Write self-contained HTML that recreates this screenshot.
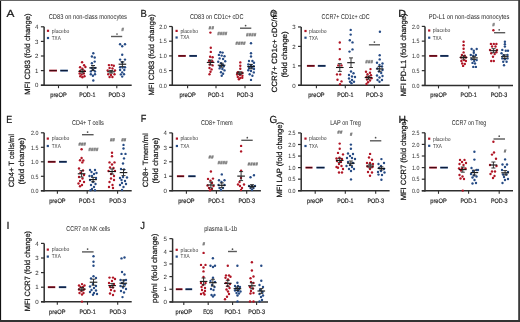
<!DOCTYPE html><html><head><meta charset="utf-8"><style>html,body{margin:0;padding:0;background:#fff;}svg{display:block;filter:blur(0.3px);text-rendering:geometricPrecision;font-family:"Liberation Sans", sans-serif;} text{stroke:currentColor;stroke-width:0.14px;} text.h{stroke:none;} text.L{stroke-width:0.2px;} text.Y{stroke-width:0.2px;}</style></head><body>
<svg width="520" height="322" viewBox="0 0 520 322" fill="#1e1e1e">
<rect width="520" height="322" fill="#fff"/>
<text x="6.6" y="17" font-size="10.3" textLength="7.9" lengthAdjust="spacingAndGlyphs" class="L">A</text>
<text x="48.7" y="18.6" font-size="7" textLength="78.3" lengthAdjust="spacingAndGlyphs" class="h">CD83 on non-class monocytes</text>
<text class="Y" transform="translate(29.6,54.15) rotate(-90)" font-size="7.6" text-anchor="middle" textLength="81.3" lengthAdjust="spacingAndGlyphs">MFI CD83 (fold change)</text>
<line x1="44.1" y1="26.8" x2="44.1" y2="85.8" stroke="#2e2e2e" stroke-width="1.5"/>
<line x1="40.9" y1="85.2" x2="131.7" y2="85.2" stroke="#2e2e2e" stroke-width="1.5"/>
<line x1="40.9" y1="85.2" x2="44.1" y2="85.2" stroke="#2e2e2e" stroke-width="1.2"/>
<text x="38.5" y="87.4" font-size="6.1" text-anchor="end" fill="#2a2a2a" class="h">0</text>
<line x1="40.9" y1="70.6" x2="44.1" y2="70.6" stroke="#2e2e2e" stroke-width="1.2"/>
<text x="38.5" y="72.8" font-size="6.1" text-anchor="end" fill="#2a2a2a" class="h">1</text>
<line x1="40.9" y1="56" x2="44.1" y2="56" stroke="#2e2e2e" stroke-width="1.2"/>
<text x="38.5" y="58.2" font-size="6.1" text-anchor="end" fill="#2a2a2a" class="h">2</text>
<line x1="40.9" y1="41.4" x2="44.1" y2="41.4" stroke="#2e2e2e" stroke-width="1.2"/>
<text x="38.5" y="43.6" font-size="6.1" text-anchor="end" fill="#2a2a2a" class="h">3</text>
<line x1="40.9" y1="26.8" x2="44.1" y2="26.8" stroke="#2e2e2e" stroke-width="1.2"/>
<text x="38.5" y="29" font-size="6.1" text-anchor="end" fill="#2a2a2a" class="h">4</text>
<line x1="58.5" y1="85.2" x2="58.5" y2="88.2" stroke="#2e2e2e" stroke-width="1.1"/>
<text x="58.5" y="96.8" font-size="6.4" text-anchor="middle" textLength="16.4" lengthAdjust="spacingAndGlyphs">preOP</text>
<line x1="87.3" y1="85.2" x2="87.3" y2="88.2" stroke="#2e2e2e" stroke-width="1.1"/>
<text x="87.3" y="96.8" font-size="6.4" text-anchor="middle" textLength="16.2" lengthAdjust="spacingAndGlyphs">POD-1</text>
<line x1="116.8" y1="85.2" x2="116.8" y2="88.2" stroke="#2e2e2e" stroke-width="1.1"/>
<text x="116.8" y="96.8" font-size="6.4" text-anchor="middle" textLength="16.6" lengthAdjust="spacingAndGlyphs">POD-3</text>
<rect x="46.9" y="29.7" width="2.2" height="2.2" fill="#b01525"/>
<rect x="46.9" y="36.9" width="2.2" height="2.2" fill="#264b85"/>
<text x="51.8" y="32.6" font-size="5.8" textLength="17.6" lengthAdjust="spacingAndGlyphs" fill="#3a3a3a" class="h">placebo</text>
<text x="51.8" y="39.8" font-size="5.8" textLength="8.9" lengthAdjust="spacingAndGlyphs" fill="#3a3a3a" class="h">TXA</text>
<line x1="49.2" y1="70.6" x2="57" y2="70.6" stroke="#a3182a" stroke-width="1.9"/>
<line x1="49.5" y1="70.6" x2="56.7" y2="70.6" stroke="#3a0610" stroke-width="1.0"/>
<line x1="60.2" y1="70.6" x2="67.9" y2="70.6" stroke="#24497f" stroke-width="1.9"/>
<line x1="60.5" y1="70.6" x2="67.6" y2="70.6" stroke="#0b1630" stroke-width="1.0"/>
<circle cx="82.1" cy="62.3" r="1.2" fill="#b01525"/>
<circle cx="84.1" cy="65.2" r="1.2" fill="#b01525"/>
<circle cx="85.4" cy="67" r="1.2" fill="#b01525"/>
<circle cx="80.1" cy="67.2" r="1.2" fill="#b01525"/>
<circle cx="82.4" cy="68.8" r="1.2" fill="#b01525"/>
<circle cx="80" cy="71" r="1.2" fill="#b01525"/>
<circle cx="84.4" cy="71" r="1.2" fill="#b01525"/>
<circle cx="79.6" cy="73.5" r="1.2" fill="#b01525"/>
<circle cx="81.7" cy="74.6" r="1.2" fill="#b01525"/>
<circle cx="83.8" cy="73.5" r="1.2" fill="#b01525"/>
<circle cx="80.3" cy="76.2" r="1.2" fill="#b01525"/>
<circle cx="82.4" cy="77.2" r="1.2" fill="#b01525"/>
<circle cx="84.5" cy="76.2" r="1.2" fill="#b01525"/>
<circle cx="93.3" cy="53.3" r="1.2" fill="#264b85"/>
<circle cx="91.9" cy="56.5" r="1.2" fill="#264b85"/>
<circle cx="94.7" cy="57.5" r="1.2" fill="#264b85"/>
<circle cx="94.7" cy="61.6" r="1.2" fill="#264b85"/>
<circle cx="91.9" cy="63.2" r="1.2" fill="#264b85"/>
<circle cx="91.5" cy="67.9" r="1.2" fill="#264b85"/>
<circle cx="94.9" cy="67.9" r="1.2" fill="#264b85"/>
<circle cx="90.8" cy="71.4" r="1.2" fill="#264b85"/>
<circle cx="92.9" cy="70" r="1.2" fill="#264b85"/>
<circle cx="95" cy="71.4" r="1.2" fill="#264b85"/>
<circle cx="90.8" cy="74.2" r="1.2" fill="#264b85"/>
<circle cx="95" cy="74.2" r="1.2" fill="#264b85"/>
<circle cx="92.9" cy="75.8" r="1.2" fill="#264b85"/>
<circle cx="93.3" cy="80.5" r="1.2" fill="#264b85"/>
<circle cx="108.9" cy="65.1" r="1.2" fill="#b01525"/>
<circle cx="111.7" cy="65.1" r="1.2" fill="#b01525"/>
<circle cx="113.8" cy="65.8" r="1.2" fill="#b01525"/>
<circle cx="109.6" cy="68" r="1.2" fill="#b01525"/>
<circle cx="112.5" cy="68.5" r="1.2" fill="#b01525"/>
<circle cx="107.7" cy="70.5" r="1.2" fill="#b01525"/>
<circle cx="115" cy="70.5" r="1.2" fill="#b01525"/>
<circle cx="108.2" cy="74.2" r="1.2" fill="#b01525"/>
<circle cx="111" cy="74.9" r="1.2" fill="#b01525"/>
<circle cx="114.5" cy="74.2" r="1.2" fill="#b01525"/>
<circle cx="109.6" cy="77" r="1.2" fill="#b01525"/>
<circle cx="112.4" cy="77" r="1.2" fill="#b01525"/>
<circle cx="120.1" cy="44.2" r="1.2" fill="#264b85"/>
<circle cx="122.2" cy="46.3" r="1.2" fill="#264b85"/>
<circle cx="125" cy="44.2" r="1.2" fill="#264b85"/>
<circle cx="122.2" cy="54.7" r="1.2" fill="#264b85"/>
<circle cx="120.1" cy="59.6" r="1.2" fill="#264b85"/>
<circle cx="125" cy="59.6" r="1.2" fill="#264b85"/>
<circle cx="122.2" cy="62.3" r="1.2" fill="#264b85"/>
<circle cx="120.1" cy="67.2" r="1.2" fill="#264b85"/>
<circle cx="122.6" cy="67.6" r="1.2" fill="#264b85"/>
<circle cx="125" cy="67.2" r="1.2" fill="#264b85"/>
<circle cx="120.1" cy="70" r="1.2" fill="#264b85"/>
<circle cx="124.3" cy="70" r="1.2" fill="#264b85"/>
<circle cx="122.2" cy="72.4" r="1.2" fill="#264b85"/>
<circle cx="120.8" cy="74.4" r="1.2" fill="#264b85"/>
<circle cx="124" cy="74.2" r="1.2" fill="#264b85"/>
<circle cx="122.2" cy="76.6" r="1.2" fill="#264b85"/>
<line x1="78.4" y1="71.4" x2="86" y2="71.4" stroke="#111" stroke-width="1.1"/>
<line x1="82.2" y1="69.8" x2="82.2" y2="73" stroke="#222" stroke-width="0.9"/>
<line x1="80.2" y1="69.8" x2="84.2" y2="69.8" stroke="#222" stroke-width="0.9"/>
<line x1="80.2" y1="73" x2="84.2" y2="73" stroke="#222" stroke-width="0.9"/>
<line x1="89.2" y1="67.9" x2="96.8" y2="67.9" stroke="#111" stroke-width="1.1"/>
<line x1="93" y1="65.5" x2="93" y2="70.3" stroke="#222" stroke-width="0.9"/>
<line x1="91" y1="65.5" x2="95" y2="65.5" stroke="#222" stroke-width="0.9"/>
<line x1="91" y1="70.3" x2="95" y2="70.3" stroke="#222" stroke-width="0.9"/>
<line x1="107.3" y1="71.8" x2="114.9" y2="71.8" stroke="#111" stroke-width="1.1"/>
<line x1="111.1" y1="70.5" x2="111.1" y2="73.1" stroke="#222" stroke-width="0.9"/>
<line x1="109.1" y1="70.5" x2="113.1" y2="70.5" stroke="#222" stroke-width="0.9"/>
<line x1="109.1" y1="73.1" x2="113.1" y2="73.1" stroke="#222" stroke-width="0.9"/>
<line x1="118.6" y1="64.2" x2="126.2" y2="64.2" stroke="#111" stroke-width="1.1"/>
<line x1="122.4" y1="61.8" x2="122.4" y2="66.6" stroke="#222" stroke-width="0.9"/>
<line x1="120.4" y1="61.8" x2="124.4" y2="61.8" stroke="#222" stroke-width="0.9"/>
<line x1="120.4" y1="66.6" x2="124.4" y2="66.6" stroke="#222" stroke-width="0.9"/>
<line x1="111" y1="36.5" x2="122.2" y2="36.5" stroke="#5a5a5a" stroke-width="1.4"/>
<circle cx="117" cy="34" r="0.85" fill="#505050"/>
<path d="M121.8 31.2L122.6 27.6M122.8 31.2L123.6 27.6M121.6 28.8H123.8M121.4 30H123.6" stroke="#4a4a4a" stroke-width="0.5" fill="none"/>
<text x="140.4" y="16.6" font-size="10.3" textLength="6.3" lengthAdjust="spacingAndGlyphs" class="L">B</text>
<text x="189.9" y="18.8" font-size="7" textLength="53.6" lengthAdjust="spacingAndGlyphs" class="h">CD83 on CD1c+ cDC</text>
<text class="Y" transform="translate(153.7,54.95) rotate(-90)" font-size="7.6" text-anchor="middle" textLength="81.3" lengthAdjust="spacingAndGlyphs">MFI CD83 (fold change)</text>
<line x1="172.3" y1="26.5" x2="172.3" y2="85.9" stroke="#2e2e2e" stroke-width="1.5"/>
<line x1="169.1" y1="85.3" x2="260.9" y2="85.3" stroke="#2e2e2e" stroke-width="1.5"/>
<line x1="169.1" y1="85.3" x2="172.3" y2="85.3" stroke="#2e2e2e" stroke-width="1.2"/>
<text x="166.7" y="87.5" font-size="6.1" text-anchor="end" textLength="7.4" lengthAdjust="spacingAndGlyphs" fill="#2a2a2a" class="h">0.0</text>
<line x1="169.1" y1="70.6" x2="172.3" y2="70.6" stroke="#2e2e2e" stroke-width="1.2"/>
<text x="166.7" y="72.8" font-size="6.1" text-anchor="end" textLength="7.4" lengthAdjust="spacingAndGlyphs" fill="#2a2a2a" class="h">0.5</text>
<line x1="169.1" y1="55.9" x2="172.3" y2="55.9" stroke="#2e2e2e" stroke-width="1.2"/>
<text x="166.7" y="58.1" font-size="6.1" text-anchor="end" textLength="7.4" lengthAdjust="spacingAndGlyphs" fill="#2a2a2a" class="h">1.0</text>
<line x1="169.1" y1="41.2" x2="172.3" y2="41.2" stroke="#2e2e2e" stroke-width="1.2"/>
<text x="166.7" y="43.4" font-size="6.1" text-anchor="end" textLength="7.4" lengthAdjust="spacingAndGlyphs" fill="#2a2a2a" class="h">1.5</text>
<line x1="169.1" y1="26.5" x2="172.3" y2="26.5" stroke="#2e2e2e" stroke-width="1.2"/>
<text x="166.7" y="28.7" font-size="6.1" text-anchor="end" textLength="7.4" lengthAdjust="spacingAndGlyphs" fill="#2a2a2a" class="h">2.0</text>
<line x1="187.6" y1="85.3" x2="187.6" y2="88.3" stroke="#2e2e2e" stroke-width="1.1"/>
<text x="187.6" y="96.8" font-size="6.4" text-anchor="middle" textLength="16.4" lengthAdjust="spacingAndGlyphs">preOP</text>
<line x1="216" y1="85.3" x2="216" y2="88.3" stroke="#2e2e2e" stroke-width="1.1"/>
<text x="216" y="96.8" font-size="6.4" text-anchor="middle" textLength="16.2" lengthAdjust="spacingAndGlyphs">POD-1</text>
<line x1="245" y1="85.3" x2="245" y2="88.3" stroke="#2e2e2e" stroke-width="1.1"/>
<text x="245" y="96.8" font-size="6.4" text-anchor="middle" textLength="16.6" lengthAdjust="spacingAndGlyphs">POD-3</text>
<rect x="175.5" y="29.8" width="2.2" height="2.2" fill="#b01525"/>
<rect x="175.5" y="36.4" width="2.2" height="2.2" fill="#264b85"/>
<text x="180.4" y="32.7" font-size="5.8" textLength="17.6" lengthAdjust="spacingAndGlyphs" fill="#3a3a3a" class="h">placebo</text>
<text x="180.4" y="39.3" font-size="5.8" textLength="8.9" lengthAdjust="spacingAndGlyphs" fill="#3a3a3a" class="h">TXA</text>
<line x1="178.2" y1="55.9" x2="185.8" y2="55.9" stroke="#a3182a" stroke-width="1.9"/>
<line x1="178.5" y1="55.9" x2="185.5" y2="55.9" stroke="#3a0610" stroke-width="1.0"/>
<line x1="189.3" y1="55.9" x2="197" y2="55.9" stroke="#24497f" stroke-width="1.9"/>
<line x1="189.6" y1="55.9" x2="196.7" y2="55.9" stroke="#0b1630" stroke-width="1.0"/>
<circle cx="210.4" cy="32.6" r="1.2" fill="#b01525"/>
<circle cx="210.8" cy="47.7" r="1.2" fill="#b01525"/>
<circle cx="210.8" cy="51.9" r="1.2" fill="#b01525"/>
<circle cx="210.1" cy="56.8" r="1.2" fill="#b01525"/>
<circle cx="212.6" cy="57.2" r="1.2" fill="#b01525"/>
<circle cx="209.1" cy="60.7" r="1.2" fill="#b01525"/>
<circle cx="212.3" cy="61.2" r="1.2" fill="#b01525"/>
<circle cx="209.8" cy="64.5" r="1.2" fill="#b01525"/>
<circle cx="212.6" cy="65.4" r="1.2" fill="#b01525"/>
<circle cx="209.5" cy="68" r="1.2" fill="#b01525"/>
<circle cx="211.6" cy="69.4" r="1.2" fill="#b01525"/>
<circle cx="210.5" cy="71.7" r="1.2" fill="#b01525"/>
<circle cx="209.5" cy="74.3" r="1.2" fill="#b01525"/>
<circle cx="220.3" cy="52.3" r="1.2" fill="#264b85"/>
<circle cx="222.6" cy="52.6" r="1.2" fill="#264b85"/>
<circle cx="218.9" cy="54.9" r="1.2" fill="#264b85"/>
<circle cx="221.7" cy="55.6" r="1.2" fill="#264b85"/>
<circle cx="224.5" cy="56.2" r="1.2" fill="#264b85"/>
<circle cx="219.6" cy="58.4" r="1.2" fill="#264b85"/>
<circle cx="223.1" cy="59" r="1.2" fill="#264b85"/>
<circle cx="225.2" cy="61.2" r="1.2" fill="#264b85"/>
<circle cx="218.2" cy="61.7" r="1.2" fill="#264b85"/>
<circle cx="221" cy="63.1" r="1.2" fill="#264b85"/>
<circle cx="222.8" cy="64.7" r="1.2" fill="#264b85"/>
<circle cx="220.1" cy="66.2" r="1.2" fill="#264b85"/>
<circle cx="223.8" cy="66.2" r="1.2" fill="#264b85"/>
<circle cx="219.6" cy="68.4" r="1.2" fill="#264b85"/>
<circle cx="222.4" cy="69" r="1.2" fill="#264b85"/>
<circle cx="224.5" cy="70.4" r="1.2" fill="#264b85"/>
<circle cx="221" cy="72.2" r="1.2" fill="#264b85"/>
<circle cx="223.1" cy="73.8" r="1.2" fill="#264b85"/>
<circle cx="221.7" cy="75.7" r="1.2" fill="#264b85"/>
<circle cx="240.3" cy="62.4" r="1.2" fill="#b01525"/>
<circle cx="240.3" cy="65.7" r="1.2" fill="#b01525"/>
<circle cx="240.3" cy="68.7" r="1.2" fill="#b01525"/>
<circle cx="237.8" cy="72.2" r="1.2" fill="#b01525"/>
<circle cx="242.2" cy="72.7" r="1.2" fill="#b01525"/>
<circle cx="237.1" cy="74.5" r="1.2" fill="#b01525"/>
<circle cx="239.9" cy="75" r="1.2" fill="#b01525"/>
<circle cx="242.4" cy="75.7" r="1.2" fill="#b01525"/>
<circle cx="237.8" cy="77" r="1.2" fill="#b01525"/>
<circle cx="240.3" cy="78" r="1.2" fill="#b01525"/>
<circle cx="242.3" cy="77.8" r="1.2" fill="#b01525"/>
<circle cx="238.9" cy="79.3" r="1.2" fill="#b01525"/>
<circle cx="251" cy="43.2" r="1.2" fill="#264b85"/>
<circle cx="251" cy="53.3" r="1.2" fill="#264b85"/>
<circle cx="251" cy="56.5" r="1.2" fill="#264b85"/>
<circle cx="249" cy="61" r="1.2" fill="#264b85"/>
<circle cx="252.4" cy="61" r="1.2" fill="#264b85"/>
<circle cx="254" cy="62.8" r="1.2" fill="#264b85"/>
<circle cx="248.3" cy="64.5" r="1.2" fill="#264b85"/>
<circle cx="251" cy="65.2" r="1.2" fill="#264b85"/>
<circle cx="253.8" cy="66.2" r="1.2" fill="#264b85"/>
<circle cx="249" cy="68" r="1.2" fill="#264b85"/>
<circle cx="251.7" cy="67.6" r="1.2" fill="#264b85"/>
<circle cx="254" cy="69" r="1.2" fill="#264b85"/>
<circle cx="248.3" cy="70.2" r="1.2" fill="#264b85"/>
<circle cx="251" cy="71" r="1.2" fill="#264b85"/>
<circle cx="253.8" cy="72.4" r="1.2" fill="#264b85"/>
<circle cx="249.7" cy="74.3" r="1.2" fill="#264b85"/>
<circle cx="252.4" cy="75.7" r="1.2" fill="#264b85"/>
<circle cx="251" cy="79.9" r="1.2" fill="#264b85"/>
<line x1="206.8" y1="62.4" x2="214.4" y2="62.4" stroke="#111" stroke-width="1.1"/>
<line x1="210.6" y1="60" x2="210.6" y2="64.8" stroke="#222" stroke-width="0.9"/>
<line x1="208.6" y1="60" x2="212.6" y2="60" stroke="#222" stroke-width="0.9"/>
<line x1="208.6" y1="64.8" x2="212.6" y2="64.8" stroke="#222" stroke-width="0.9"/>
<line x1="217.8" y1="65.2" x2="225.4" y2="65.2" stroke="#111" stroke-width="1.1"/>
<line x1="221.6" y1="63.2" x2="221.6" y2="67.2" stroke="#222" stroke-width="0.9"/>
<line x1="219.6" y1="63.2" x2="223.6" y2="63.2" stroke="#222" stroke-width="0.9"/>
<line x1="219.6" y1="67.2" x2="223.6" y2="67.2" stroke="#222" stroke-width="0.9"/>
<line x1="236.1" y1="73.1" x2="243.7" y2="73.1" stroke="#111" stroke-width="1.1"/>
<line x1="239.9" y1="71.8" x2="239.9" y2="74.4" stroke="#222" stroke-width="0.9"/>
<line x1="237.9" y1="71.8" x2="241.9" y2="71.8" stroke="#222" stroke-width="0.9"/>
<line x1="237.9" y1="74.4" x2="241.9" y2="74.4" stroke="#222" stroke-width="0.9"/>
<line x1="247.2" y1="66.6" x2="254.8" y2="66.6" stroke="#111" stroke-width="1.1"/>
<line x1="251" y1="64.4" x2="251" y2="68.8" stroke="#222" stroke-width="0.9"/>
<line x1="249" y1="64.4" x2="253" y2="64.4" stroke="#222" stroke-width="0.9"/>
<line x1="249" y1="68.8" x2="253" y2="68.8" stroke="#222" stroke-width="0.9"/>
<path d="M209.03 29.6L209.82 26M210.03 29.6L210.82 26M208.82 27.2H211.03M208.62 28.4H210.82M211.88 29.6L212.67 26M212.88 29.6L213.67 26M211.67 27.2H213.88M211.47 28.4H213.67" stroke="#4a4a4a" stroke-width="0.5" fill="none"/>
<path d="M217.73 35.3L218.53 31.7M218.73 35.3L219.53 31.7M217.53 32.9H219.73M217.33 34.1H219.53M220.18 35.3L220.97 31.7M221.18 35.3L221.97 31.7M219.97 32.9H222.18M219.78 34.1H221.97M222.62 35.3L223.42 31.7M223.62 35.3L224.42 31.7M222.42 32.9H224.62M222.22 34.1H224.42M225.08 35.3L225.88 31.7M226.08 35.3L226.88 31.7M224.88 32.9H227.08M224.68 34.1H226.88" stroke="#4a4a4a" stroke-width="0.5" fill="none"/>
<line x1="240" y1="28.2" x2="251.3" y2="28.2" stroke="#5a5a5a" stroke-width="1.4"/>
<circle cx="245.6" cy="25.6" r="0.85" fill="#505050"/>
<path d="M246.48 36.5L247.28 32.9M247.48 36.5L248.28 32.9M246.28 34.1H248.48M246.08 35.3H248.28M249.03 36.5L249.83 32.9M250.03 36.5L250.83 32.9M248.83 34.1H251.03M248.63 35.3H250.83M251.58 36.5L252.38 32.9M252.58 36.5L253.38 32.9M251.38 34.1H253.58M251.18 35.3H253.38M254.12 36.5L254.92 32.9M255.12 36.5L255.92 32.9M253.92 34.1H256.12M253.72 35.3H255.92" stroke="#4a4a4a" stroke-width="0.5" fill="none"/>
<path d="M235.86 45L236.66 41.4M236.86 45L237.66 41.4M235.66 42.6H237.86M235.46 43.8H237.66M238.39 45L239.19 41.4M239.39 45L240.19 41.4M238.19 42.6H240.39M237.99 43.8H240.19M240.91 45L241.71 41.4M241.91 45L242.71 41.4M240.71 42.6H242.91M240.51 43.8H242.71M243.44 45L244.24 41.4M244.44 45L245.24 41.4M243.24 42.6H245.44M243.04 43.8H245.24" stroke="#4a4a4a" stroke-width="0.5" fill="none"/>
<text x="270" y="16.6" font-size="10.3" textLength="6.5" lengthAdjust="spacingAndGlyphs" class="L">C</text>
<text x="321.6" y="18.8" font-size="7" textLength="48.1" lengthAdjust="spacingAndGlyphs" class="h">CCR7+ CD1c+ cDC</text>
<text class="Y" transform="translate(276.5,51.85) rotate(-90)" font-size="7.6" text-anchor="middle" textLength="81.3" lengthAdjust="spacingAndGlyphs">CCR7+ CD1c+ cDC/ml</text>
<text class="Y" transform="translate(286.6,54.5) rotate(-90)" font-size="7.6" text-anchor="middle" textLength="46.2" lengthAdjust="spacingAndGlyphs">(fold change)</text>
<line x1="301.2" y1="26.95" x2="301.2" y2="85.9" stroke="#2e2e2e" stroke-width="1.5"/>
<line x1="298" y1="85.3" x2="389.6" y2="85.3" stroke="#2e2e2e" stroke-width="1.5"/>
<line x1="298" y1="85.3" x2="301.2" y2="85.3" stroke="#2e2e2e" stroke-width="1.2"/>
<text x="295.6" y="87.5" font-size="6.1" text-anchor="end" fill="#2a2a2a" class="h">0</text>
<line x1="298" y1="65.85" x2="301.2" y2="65.85" stroke="#2e2e2e" stroke-width="1.2"/>
<text x="295.6" y="68.05" font-size="6.1" text-anchor="end" fill="#2a2a2a" class="h">1</text>
<line x1="298" y1="46.4" x2="301.2" y2="46.4" stroke="#2e2e2e" stroke-width="1.2"/>
<text x="295.6" y="48.6" font-size="6.1" text-anchor="end" fill="#2a2a2a" class="h">2</text>
<line x1="298" y1="26.95" x2="301.2" y2="26.95" stroke="#2e2e2e" stroke-width="1.2"/>
<text x="295.6" y="29.15" font-size="6.1" text-anchor="end" fill="#2a2a2a" class="h">3</text>
<line x1="316.4" y1="85.3" x2="316.4" y2="88.3" stroke="#2e2e2e" stroke-width="1.1"/>
<text x="316.4" y="96.8" font-size="6.4" text-anchor="middle" textLength="16.4" lengthAdjust="spacingAndGlyphs">preOP</text>
<line x1="345.3" y1="85.3" x2="345.3" y2="88.3" stroke="#2e2e2e" stroke-width="1.1"/>
<text x="345.3" y="96.8" font-size="6.4" text-anchor="middle" textLength="16.2" lengthAdjust="spacingAndGlyphs">POD-1</text>
<line x1="374.4" y1="85.3" x2="374.4" y2="88.3" stroke="#2e2e2e" stroke-width="1.1"/>
<text x="374.4" y="96.8" font-size="6.4" text-anchor="middle" textLength="16.6" lengthAdjust="spacingAndGlyphs">POD-3</text>
<rect x="304.4" y="29.9" width="2.2" height="2.2" fill="#b01525"/>
<rect x="304.4" y="36.6" width="2.2" height="2.2" fill="#264b85"/>
<text x="309" y="32.8" font-size="5.8" textLength="17.6" lengthAdjust="spacingAndGlyphs" fill="#3a3a3a" class="h">placebo</text>
<text x="309" y="39.5" font-size="5.8" textLength="8.9" lengthAdjust="spacingAndGlyphs" fill="#3a3a3a" class="h">TXA</text>
<line x1="306.9" y1="65.85" x2="314.7" y2="65.85" stroke="#a3182a" stroke-width="1.9"/>
<line x1="307.2" y1="65.85" x2="314.4" y2="65.85" stroke="#3a0610" stroke-width="1.0"/>
<line x1="317.8" y1="65.85" x2="325.6" y2="65.85" stroke="#24497f" stroke-width="1.9"/>
<line x1="318.1" y1="65.85" x2="325.3" y2="65.85" stroke="#0b1630" stroke-width="1.0"/>
<circle cx="339.8" cy="42.5" r="1.2" fill="#b01525"/>
<circle cx="339.8" cy="49.1" r="1.2" fill="#b01525"/>
<circle cx="339.8" cy="59.3" r="1.2" fill="#b01525"/>
<circle cx="338.3" cy="65.4" r="1.2" fill="#b01525"/>
<circle cx="341.5" cy="65.4" r="1.2" fill="#b01525"/>
<circle cx="337" cy="74.4" r="1.2" fill="#b01525"/>
<circle cx="340.2" cy="74.4" r="1.2" fill="#b01525"/>
<circle cx="337.5" cy="79.7" r="1.2" fill="#b01525"/>
<circle cx="341.5" cy="81.4" r="1.2" fill="#b01525"/>
<circle cx="340" cy="84.2" r="1.2" fill="#b01525"/>
<circle cx="350.7" cy="29.9" r="1.2" fill="#264b85"/>
<circle cx="350.7" cy="34.6" r="1.2" fill="#264b85"/>
<circle cx="349.8" cy="40.3" r="1.2" fill="#264b85"/>
<circle cx="352.5" cy="42.4" r="1.2" fill="#264b85"/>
<circle cx="352.5" cy="49.4" r="1.2" fill="#264b85"/>
<circle cx="349.5" cy="51.6" r="1.2" fill="#264b85"/>
<circle cx="351" cy="71.5" r="1.2" fill="#264b85"/>
<circle cx="353.5" cy="73.3" r="1.2" fill="#264b85"/>
<circle cx="349" cy="75" r="1.2" fill="#264b85"/>
<circle cx="352" cy="76.5" r="1.2" fill="#264b85"/>
<circle cx="355" cy="77" r="1.2" fill="#264b85"/>
<circle cx="349" cy="78.5" r="1.2" fill="#264b85"/>
<circle cx="352" cy="80" r="1.2" fill="#264b85"/>
<circle cx="350" cy="81.8" r="1.2" fill="#264b85"/>
<circle cx="354" cy="81.8" r="1.2" fill="#264b85"/>
<circle cx="351.5" cy="83.3" r="1.2" fill="#264b85"/>
<circle cx="370.5" cy="69.1" r="1.2" fill="#b01525"/>
<circle cx="366" cy="71.8" r="1.2" fill="#b01525"/>
<circle cx="370" cy="72.8" r="1.2" fill="#b01525"/>
<circle cx="367.5" cy="74.3" r="1.2" fill="#b01525"/>
<circle cx="371" cy="75.3" r="1.2" fill="#b01525"/>
<circle cx="366.5" cy="77" r="1.2" fill="#b01525"/>
<circle cx="369" cy="77.3" r="1.2" fill="#b01525"/>
<circle cx="371.5" cy="78.3" r="1.2" fill="#b01525"/>
<circle cx="367" cy="79.6" r="1.2" fill="#b01525"/>
<circle cx="370" cy="80.6" r="1.2" fill="#b01525"/>
<circle cx="368" cy="82.2" r="1.2" fill="#b01525"/>
<circle cx="366.5" cy="84" r="1.2" fill="#b01525"/>
<circle cx="379.9" cy="31.7" r="1.2" fill="#264b85"/>
<circle cx="379.7" cy="55.3" r="1.2" fill="#264b85"/>
<circle cx="379.7" cy="59.4" r="1.2" fill="#264b85"/>
<circle cx="377" cy="62.8" r="1.2" fill="#264b85"/>
<circle cx="382.5" cy="63.5" r="1.2" fill="#264b85"/>
<circle cx="379.5" cy="65" r="1.2" fill="#264b85"/>
<circle cx="382" cy="66.5" r="1.2" fill="#264b85"/>
<circle cx="377.5" cy="68.5" r="1.2" fill="#264b85"/>
<circle cx="382.5" cy="70" r="1.2" fill="#264b85"/>
<circle cx="379" cy="71.5" r="1.2" fill="#264b85"/>
<circle cx="381.2" cy="73" r="1.2" fill="#264b85"/>
<circle cx="377" cy="75.5" r="1.2" fill="#264b85"/>
<circle cx="382.5" cy="76" r="1.2" fill="#264b85"/>
<circle cx="379.5" cy="77.5" r="1.2" fill="#264b85"/>
<circle cx="377.5" cy="80" r="1.2" fill="#264b85"/>
<circle cx="382" cy="80" r="1.2" fill="#264b85"/>
<circle cx="379.5" cy="81.7" r="1.2" fill="#264b85"/>
<line x1="336" y1="67.5" x2="343.6" y2="67.5" stroke="#111" stroke-width="1.1"/>
<line x1="339.8" y1="63.6" x2="339.8" y2="71.4" stroke="#222" stroke-width="0.9"/>
<line x1="337.8" y1="63.6" x2="341.8" y2="63.6" stroke="#222" stroke-width="0.9"/>
<line x1="337.8" y1="71.4" x2="341.8" y2="71.4" stroke="#222" stroke-width="0.9"/>
<line x1="347.2" y1="62.7" x2="354.8" y2="62.7" stroke="#111" stroke-width="1.1"/>
<line x1="351" y1="57.9" x2="351" y2="67.5" stroke="#222" stroke-width="0.9"/>
<line x1="349" y1="57.9" x2="353" y2="57.9" stroke="#222" stroke-width="0.9"/>
<line x1="349" y1="67.5" x2="353" y2="67.5" stroke="#222" stroke-width="0.9"/>
<line x1="364.7" y1="77.6" x2="372.3" y2="77.6" stroke="#111" stroke-width="1.1"/>
<line x1="368.5" y1="76" x2="368.5" y2="79.2" stroke="#222" stroke-width="0.9"/>
<line x1="366.5" y1="76" x2="370.5" y2="76" stroke="#222" stroke-width="0.9"/>
<line x1="366.5" y1="79.2" x2="370.5" y2="79.2" stroke="#222" stroke-width="0.9"/>
<line x1="375.9" y1="68.9" x2="383.5" y2="68.9" stroke="#111" stroke-width="1.1"/>
<line x1="379.7" y1="66.5" x2="379.7" y2="71.3" stroke="#222" stroke-width="0.9"/>
<line x1="377.7" y1="66.5" x2="381.7" y2="66.5" stroke="#222" stroke-width="0.9"/>
<line x1="377.7" y1="71.3" x2="381.7" y2="71.3" stroke="#222" stroke-width="0.9"/>
<path d="M365.7 63.5L366.5 59.9M366.7 63.5L367.5 59.9M365.5 61.1H367.7M365.3 62.3H367.5M368.3 63.5L369.1 59.9M369.3 63.5L370.1 59.9M368.1 61.1H370.3M367.9 62.3H370.1M370.9 63.5L371.7 59.9M371.9 63.5L372.7 59.9M370.7 61.1H372.9M370.5 62.3H372.7" stroke="#4a4a4a" stroke-width="0.5" fill="none"/>
<line x1="368.9" y1="44.8" x2="380" y2="44.8" stroke="#5a5a5a" stroke-width="1.4"/>
<circle cx="374.4" cy="42.1" r="0.85" fill="#505050"/>
<text x="398.2" y="16.6" font-size="10.3" textLength="7.8" lengthAdjust="spacingAndGlyphs" class="L">D</text>
<text x="428.7" y="18.6" font-size="7" textLength="80.7" lengthAdjust="spacingAndGlyphs" class="h">PD-L1 on non-class monocytes</text>
<text class="Y" transform="translate(405.5,54.9) rotate(-90)" font-size="7.6" text-anchor="middle" textLength="82.8" lengthAdjust="spacingAndGlyphs">MFI PD-L1 (fold change)</text>
<line x1="425" y1="26.4" x2="425" y2="86" stroke="#2e2e2e" stroke-width="1.5"/>
<line x1="421.8" y1="85.4" x2="513" y2="85.4" stroke="#2e2e2e" stroke-width="1.5"/>
<line x1="421.8" y1="85.4" x2="425" y2="85.4" stroke="#2e2e2e" stroke-width="1.2"/>
<text x="419.4" y="87.6" font-size="6.1" text-anchor="end" textLength="7.4" lengthAdjust="spacingAndGlyphs" fill="#2a2a2a" class="h">0.0</text>
<line x1="421.8" y1="70.65" x2="425" y2="70.65" stroke="#2e2e2e" stroke-width="1.2"/>
<text x="419.4" y="72.85" font-size="6.1" text-anchor="end" textLength="7.4" lengthAdjust="spacingAndGlyphs" fill="#2a2a2a" class="h">0.5</text>
<line x1="421.8" y1="55.9" x2="425" y2="55.9" stroke="#2e2e2e" stroke-width="1.2"/>
<text x="419.4" y="58.1" font-size="6.1" text-anchor="end" textLength="7.4" lengthAdjust="spacingAndGlyphs" fill="#2a2a2a" class="h">1.0</text>
<line x1="421.8" y1="41.15" x2="425" y2="41.15" stroke="#2e2e2e" stroke-width="1.2"/>
<text x="419.4" y="43.35" font-size="6.1" text-anchor="end" textLength="7.4" lengthAdjust="spacingAndGlyphs" fill="#2a2a2a" class="h">1.5</text>
<line x1="421.8" y1="26.4" x2="425" y2="26.4" stroke="#2e2e2e" stroke-width="1.2"/>
<text x="419.4" y="28.6" font-size="6.1" text-anchor="end" textLength="7.4" lengthAdjust="spacingAndGlyphs" fill="#2a2a2a" class="h">2.0</text>
<line x1="438.5" y1="85.4" x2="438.5" y2="88.4" stroke="#2e2e2e" stroke-width="1.1"/>
<text x="438.5" y="96.8" font-size="6.4" text-anchor="middle" textLength="16.4" lengthAdjust="spacingAndGlyphs">preOP</text>
<line x1="468.7" y1="85.4" x2="468.7" y2="88.4" stroke="#2e2e2e" stroke-width="1.1"/>
<text x="468.7" y="96.8" font-size="6.4" text-anchor="middle" textLength="16.2" lengthAdjust="spacingAndGlyphs">POD-1</text>
<line x1="499" y1="85.4" x2="499" y2="88.4" stroke="#2e2e2e" stroke-width="1.1"/>
<text x="499" y="96.8" font-size="6.4" text-anchor="middle" textLength="16.6" lengthAdjust="spacingAndGlyphs">POD-3</text>
<rect x="428.1" y="29.4" width="2.2" height="2.2" fill="#b01525"/>
<rect x="428.1" y="36.6" width="2.2" height="2.2" fill="#264b85"/>
<text x="432.7" y="32.3" font-size="5.8" textLength="17.6" lengthAdjust="spacingAndGlyphs" fill="#3a3a3a" class="h">placebo</text>
<text x="432.7" y="39.5" font-size="5.8" textLength="8.9" lengthAdjust="spacingAndGlyphs" fill="#3a3a3a" class="h">TXA</text>
<line x1="429.2" y1="55.9" x2="437.3" y2="55.9" stroke="#a3182a" stroke-width="1.9"/>
<line x1="429.5" y1="55.9" x2="437" y2="55.9" stroke="#3a0610" stroke-width="1.0"/>
<line x1="440.2" y1="55.9" x2="448.5" y2="55.9" stroke="#24497f" stroke-width="1.9"/>
<line x1="440.5" y1="55.9" x2="448.2" y2="55.9" stroke="#0b1630" stroke-width="1.0"/>
<circle cx="463.6" cy="41.8" r="1.2" fill="#b01525"/>
<circle cx="463.6" cy="45.3" r="1.2" fill="#b01525"/>
<circle cx="463.6" cy="48.7" r="1.2" fill="#b01525"/>
<circle cx="463.6" cy="52.4" r="1.2" fill="#b01525"/>
<circle cx="461.9" cy="55" r="1.2" fill="#b01525"/>
<circle cx="464.8" cy="55.8" r="1.2" fill="#b01525"/>
<circle cx="461" cy="57.5" r="1.2" fill="#b01525"/>
<circle cx="466" cy="57.5" r="1.2" fill="#b01525"/>
<circle cx="461.4" cy="61" r="1.2" fill="#b01525"/>
<circle cx="463.9" cy="60.1" r="1.2" fill="#b01525"/>
<circle cx="465.9" cy="61" r="1.2" fill="#b01525"/>
<circle cx="462.2" cy="63.5" r="1.2" fill="#b01525"/>
<circle cx="464.8" cy="64" r="1.2" fill="#b01525"/>
<circle cx="463.1" cy="65.9" r="1.2" fill="#b01525"/>
<circle cx="471.6" cy="49" r="1.2" fill="#264b85"/>
<circle cx="473.8" cy="50.7" r="1.2" fill="#264b85"/>
<circle cx="476.7" cy="49" r="1.2" fill="#264b85"/>
<circle cx="473.8" cy="52.8" r="1.2" fill="#264b85"/>
<circle cx="470.8" cy="55" r="1.2" fill="#264b85"/>
<circle cx="473.3" cy="55.8" r="1.2" fill="#264b85"/>
<circle cx="475.9" cy="55" r="1.2" fill="#264b85"/>
<circle cx="471.6" cy="59.2" r="1.2" fill="#264b85"/>
<circle cx="474.2" cy="61" r="1.2" fill="#264b85"/>
<circle cx="476.7" cy="60.1" r="1.2" fill="#264b85"/>
<circle cx="472.5" cy="62.9" r="1.2" fill="#264b85"/>
<circle cx="475" cy="63.5" r="1.2" fill="#264b85"/>
<circle cx="473.3" cy="66.9" r="1.2" fill="#264b85"/>
<circle cx="475.9" cy="66.9" r="1.2" fill="#264b85"/>
<circle cx="493.4" cy="30.2" r="1.2" fill="#b01525"/>
<circle cx="490.9" cy="43.9" r="1.2" fill="#b01525"/>
<circle cx="493.8" cy="43.9" r="1.2" fill="#b01525"/>
<circle cx="496.4" cy="43.9" r="1.2" fill="#b01525"/>
<circle cx="492.1" cy="46.5" r="1.2" fill="#b01525"/>
<circle cx="495.5" cy="46.5" r="1.2" fill="#b01525"/>
<circle cx="490" cy="50" r="1.2" fill="#b01525"/>
<circle cx="497" cy="50" r="1.2" fill="#b01525"/>
<circle cx="491.2" cy="53.3" r="1.2" fill="#b01525"/>
<circle cx="494.7" cy="54.1" r="1.2" fill="#b01525"/>
<circle cx="496.4" cy="52.2" r="1.2" fill="#b01525"/>
<circle cx="493" cy="56.7" r="1.2" fill="#b01525"/>
<circle cx="491.2" cy="61" r="1.2" fill="#b01525"/>
<circle cx="493.8" cy="61" r="1.2" fill="#b01525"/>
<circle cx="504.9" cy="41.8" r="1.2" fill="#264b85"/>
<circle cx="504.9" cy="44.2" r="1.2" fill="#264b85"/>
<circle cx="504.9" cy="46.6" r="1.2" fill="#264b85"/>
<circle cx="502.3" cy="49.9" r="1.2" fill="#264b85"/>
<circle cx="505.8" cy="50.7" r="1.2" fill="#264b85"/>
<circle cx="508" cy="50.7" r="1.2" fill="#264b85"/>
<circle cx="501.5" cy="53.3" r="1.2" fill="#264b85"/>
<circle cx="503.6" cy="55.2" r="1.2" fill="#264b85"/>
<circle cx="507.5" cy="55" r="1.2" fill="#264b85"/>
<circle cx="502.3" cy="58.4" r="1.2" fill="#264b85"/>
<circle cx="504.9" cy="59.2" r="1.2" fill="#264b85"/>
<circle cx="507.5" cy="58.4" r="1.2" fill="#264b85"/>
<circle cx="503.2" cy="61.8" r="1.2" fill="#264b85"/>
<circle cx="506.6" cy="61.8" r="1.2" fill="#264b85"/>
<circle cx="504" cy="65.2" r="1.2" fill="#264b85"/>
<line x1="459.7" y1="57.4" x2="467.3" y2="57.4" stroke="#111" stroke-width="1.1"/>
<line x1="463.5" y1="55.8" x2="463.5" y2="59" stroke="#222" stroke-width="0.9"/>
<line x1="461.5" y1="55.8" x2="465.5" y2="55.8" stroke="#222" stroke-width="0.9"/>
<line x1="461.5" y1="59" x2="465.5" y2="59" stroke="#222" stroke-width="0.9"/>
<line x1="470.2" y1="57.9" x2="477.8" y2="57.9" stroke="#111" stroke-width="1.1"/>
<line x1="474" y1="56.3" x2="474" y2="59.5" stroke="#222" stroke-width="0.9"/>
<line x1="472" y1="56.3" x2="476" y2="56.3" stroke="#222" stroke-width="0.9"/>
<line x1="472" y1="59.5" x2="476" y2="59.5" stroke="#222" stroke-width="0.9"/>
<line x1="489.8" y1="50.7" x2="497.4" y2="50.7" stroke="#111" stroke-width="1.1"/>
<line x1="493.6" y1="48.7" x2="493.6" y2="52.7" stroke="#222" stroke-width="0.9"/>
<line x1="491.6" y1="48.7" x2="495.6" y2="48.7" stroke="#222" stroke-width="0.9"/>
<line x1="491.6" y1="52.7" x2="495.6" y2="52.7" stroke="#222" stroke-width="0.9"/>
<line x1="501" y1="56.7" x2="508.6" y2="56.7" stroke="#111" stroke-width="1.1"/>
<line x1="504.8" y1="54.9" x2="504.8" y2="58.5" stroke="#222" stroke-width="0.9"/>
<line x1="502.8" y1="54.9" x2="506.8" y2="54.9" stroke="#222" stroke-width="0.9"/>
<line x1="502.8" y1="58.5" x2="506.8" y2="58.5" stroke="#222" stroke-width="0.9"/>
<path d="M492.7 26.4L493.5 22.8M493.7 26.4L494.5 22.8M492.5 24H494.7M492.3 25.2H494.5" stroke="#4a4a4a" stroke-width="0.5" fill="none"/>
<line x1="494" y1="32.7" x2="505.2" y2="32.7" stroke="#5a5a5a" stroke-width="1.4"/>
<circle cx="499.2" cy="29.8" r="0.85" fill="#505050"/>
<text x="6.3" y="123" font-size="10.3" textLength="6" lengthAdjust="spacingAndGlyphs" class="L">E</text>
<text x="72" y="124.8" font-size="7" textLength="31.7" lengthAdjust="spacingAndGlyphs" class="h">CD4+ T cells</text>
<text class="Y" transform="translate(13.8,160.6) rotate(-90)" font-size="7.6" text-anchor="middle" textLength="53.2" lengthAdjust="spacingAndGlyphs">CD4+ T cells/ml</text>
<text class="Y" transform="translate(23.6,161) rotate(-90)" font-size="7.6" text-anchor="middle" textLength="46.9" lengthAdjust="spacingAndGlyphs">(fold change)</text>
<line x1="44.1" y1="132.8" x2="44.1" y2="191.4" stroke="#2e2e2e" stroke-width="1.5"/>
<line x1="40.9" y1="190.8" x2="131.7" y2="190.8" stroke="#2e2e2e" stroke-width="1.5"/>
<line x1="40.9" y1="190.8" x2="44.1" y2="190.8" stroke="#2e2e2e" stroke-width="1.2"/>
<text x="38.5" y="193" font-size="6.1" text-anchor="end" textLength="7.4" lengthAdjust="spacingAndGlyphs" fill="#2a2a2a" class="h">0.0</text>
<line x1="40.9" y1="176.3" x2="44.1" y2="176.3" stroke="#2e2e2e" stroke-width="1.2"/>
<text x="38.5" y="178.5" font-size="6.1" text-anchor="end" textLength="7.4" lengthAdjust="spacingAndGlyphs" fill="#2a2a2a" class="h">0.5</text>
<line x1="40.9" y1="161.8" x2="44.1" y2="161.8" stroke="#2e2e2e" stroke-width="1.2"/>
<text x="38.5" y="164" font-size="6.1" text-anchor="end" textLength="7.4" lengthAdjust="spacingAndGlyphs" fill="#2a2a2a" class="h">1.0</text>
<line x1="40.9" y1="147.3" x2="44.1" y2="147.3" stroke="#2e2e2e" stroke-width="1.2"/>
<text x="38.5" y="149.5" font-size="6.1" text-anchor="end" textLength="7.4" lengthAdjust="spacingAndGlyphs" fill="#2a2a2a" class="h">1.5</text>
<line x1="40.9" y1="132.8" x2="44.1" y2="132.8" stroke="#2e2e2e" stroke-width="1.2"/>
<text x="38.5" y="135" font-size="6.1" text-anchor="end" textLength="7.4" lengthAdjust="spacingAndGlyphs" fill="#2a2a2a" class="h">2.0</text>
<line x1="57.4" y1="190.8" x2="57.4" y2="193.8" stroke="#2e2e2e" stroke-width="1.1"/>
<text x="57.4" y="202.6" font-size="6.4" text-anchor="middle" textLength="16.4" lengthAdjust="spacingAndGlyphs">preOP</text>
<line x1="87.2" y1="190.8" x2="87.2" y2="193.8" stroke="#2e2e2e" stroke-width="1.1"/>
<text x="87.2" y="202.6" font-size="6.4" text-anchor="middle" textLength="16.2" lengthAdjust="spacingAndGlyphs">POD-1</text>
<line x1="117.6" y1="190.8" x2="117.6" y2="193.8" stroke="#2e2e2e" stroke-width="1.1"/>
<text x="117.6" y="202.6" font-size="6.4" text-anchor="middle" textLength="16.6" lengthAdjust="spacingAndGlyphs">POD-3</text>
<rect x="46.7" y="137.5" width="2.2" height="2.2" fill="#b01525"/>
<rect x="46.7" y="144.9" width="2.2" height="2.2" fill="#264b85"/>
<text x="51.8" y="140.4" font-size="5.8" textLength="17.6" lengthAdjust="spacingAndGlyphs" fill="#3a3a3a" class="h">placebo</text>
<text x="51.8" y="147.8" font-size="5.8" textLength="8.9" lengthAdjust="spacingAndGlyphs" fill="#3a3a3a" class="h">TXA</text>
<line x1="47.8" y1="161.8" x2="55.6" y2="161.8" stroke="#a3182a" stroke-width="1.9"/>
<line x1="48.1" y1="161.8" x2="55.3" y2="161.8" stroke="#3a0610" stroke-width="1.0"/>
<line x1="59" y1="161.8" x2="66.8" y2="161.8" stroke="#24497f" stroke-width="1.9"/>
<line x1="59.3" y1="161.8" x2="66.5" y2="161.8" stroke="#0b1630" stroke-width="1.0"/>
<circle cx="81.6" cy="149.2" r="1.2" fill="#b01525"/>
<circle cx="81.6" cy="158" r="1.2" fill="#b01525"/>
<circle cx="80" cy="160.2" r="1.2" fill="#b01525"/>
<circle cx="83.3" cy="160.5" r="1.2" fill="#b01525"/>
<circle cx="82.3" cy="162.4" r="1.2" fill="#b01525"/>
<circle cx="79" cy="168.5" r="1.2" fill="#b01525"/>
<circle cx="83" cy="170.5" r="1.2" fill="#b01525"/>
<circle cx="80.5" cy="172.8" r="1.2" fill="#b01525"/>
<circle cx="84" cy="175" r="1.2" fill="#b01525"/>
<circle cx="79" cy="177" r="1.2" fill="#b01525"/>
<circle cx="82.5" cy="178.5" r="1.2" fill="#b01525"/>
<circle cx="80" cy="181" r="1.2" fill="#b01525"/>
<circle cx="84" cy="182" r="1.2" fill="#b01525"/>
<circle cx="78.5" cy="183.5" r="1.2" fill="#b01525"/>
<circle cx="82" cy="185" r="1.2" fill="#b01525"/>
<circle cx="80" cy="186.3" r="1.2" fill="#b01525"/>
<circle cx="90" cy="170" r="1.2" fill="#264b85"/>
<circle cx="95" cy="170" r="1.2" fill="#264b85"/>
<circle cx="91.5" cy="172" r="1.2" fill="#264b85"/>
<circle cx="94" cy="174" r="1.2" fill="#264b85"/>
<circle cx="92" cy="176" r="1.2" fill="#264b85"/>
<circle cx="96" cy="178" r="1.2" fill="#264b85"/>
<circle cx="90" cy="180" r="1.2" fill="#264b85"/>
<circle cx="93" cy="182" r="1.2" fill="#264b85"/>
<circle cx="95.5" cy="184" r="1.2" fill="#264b85"/>
<circle cx="91" cy="185" r="1.2" fill="#264b85"/>
<circle cx="94" cy="187" r="1.2" fill="#264b85"/>
<circle cx="92" cy="189" r="1.2" fill="#264b85"/>
<circle cx="90.5" cy="190.3" r="1.2" fill="#264b85"/>
<circle cx="95" cy="190.3" r="1.2" fill="#264b85"/>
<circle cx="96.5" cy="173" r="1.2" fill="#264b85"/>
<circle cx="89.5" cy="176" r="1.2" fill="#264b85"/>
<circle cx="112" cy="152.7" r="1.2" fill="#b01525"/>
<circle cx="112" cy="156.3" r="1.2" fill="#b01525"/>
<circle cx="109.5" cy="162.4" r="1.2" fill="#b01525"/>
<circle cx="114.5" cy="162.4" r="1.2" fill="#b01525"/>
<circle cx="112" cy="164.5" r="1.2" fill="#b01525"/>
<circle cx="110" cy="167.5" r="1.2" fill="#b01525"/>
<circle cx="113.5" cy="168" r="1.2" fill="#b01525"/>
<circle cx="108.5" cy="171" r="1.2" fill="#b01525"/>
<circle cx="115" cy="171" r="1.2" fill="#b01525"/>
<circle cx="111" cy="174" r="1.2" fill="#b01525"/>
<circle cx="114" cy="176" r="1.2" fill="#b01525"/>
<circle cx="111" cy="178.5" r="1.2" fill="#b01525"/>
<circle cx="114" cy="180" r="1.2" fill="#b01525"/>
<circle cx="109.5" cy="182" r="1.2" fill="#b01525"/>
<circle cx="112.5" cy="185" r="1.2" fill="#b01525"/>
<circle cx="109" cy="187" r="1.2" fill="#b01525"/>
<circle cx="113" cy="188" r="1.2" fill="#b01525"/>
<circle cx="123.5" cy="144.9" r="1.2" fill="#264b85"/>
<circle cx="123.5" cy="148.5" r="1.2" fill="#264b85"/>
<circle cx="121.5" cy="153.9" r="1.2" fill="#264b85"/>
<circle cx="125.5" cy="153.9" r="1.2" fill="#264b85"/>
<circle cx="124" cy="158.4" r="1.2" fill="#264b85"/>
<circle cx="123" cy="163.5" r="1.2" fill="#264b85"/>
<circle cx="121" cy="169" r="1.2" fill="#264b85"/>
<circle cx="124" cy="169.5" r="1.2" fill="#264b85"/>
<circle cx="120" cy="178" r="1.2" fill="#264b85"/>
<circle cx="123" cy="177" r="1.2" fill="#264b85"/>
<circle cx="127" cy="177.5" r="1.2" fill="#264b85"/>
<circle cx="121.5" cy="180" r="1.2" fill="#264b85"/>
<circle cx="125" cy="181" r="1.2" fill="#264b85"/>
<circle cx="122" cy="183" r="1.2" fill="#264b85"/>
<circle cx="126" cy="184" r="1.2" fill="#264b85"/>
<circle cx="120" cy="185" r="1.2" fill="#264b85"/>
<circle cx="123.5" cy="187" r="1.2" fill="#264b85"/>
<circle cx="122" cy="190" r="1.2" fill="#264b85"/>
<line x1="77.8" y1="173.8" x2="85.4" y2="173.8" stroke="#111" stroke-width="1.1"/>
<line x1="81.6" y1="170.6" x2="81.6" y2="177" stroke="#222" stroke-width="0.9"/>
<line x1="79.6" y1="170.6" x2="83.6" y2="170.6" stroke="#222" stroke-width="0.9"/>
<line x1="79.6" y1="177" x2="83.6" y2="177" stroke="#222" stroke-width="0.9"/>
<line x1="89.3" y1="179.6" x2="96.9" y2="179.6" stroke="#111" stroke-width="1.1"/>
<line x1="93.1" y1="177.4" x2="93.1" y2="181.8" stroke="#222" stroke-width="0.9"/>
<line x1="91.1" y1="177.4" x2="95.1" y2="177.4" stroke="#222" stroke-width="0.9"/>
<line x1="91.1" y1="181.8" x2="95.1" y2="181.8" stroke="#222" stroke-width="0.9"/>
<line x1="108.3" y1="171.5" x2="115.9" y2="171.5" stroke="#111" stroke-width="1.1"/>
<line x1="112.1" y1="168.9" x2="112.1" y2="174.1" stroke="#222" stroke-width="0.9"/>
<line x1="110.1" y1="168.9" x2="114.1" y2="168.9" stroke="#222" stroke-width="0.9"/>
<line x1="110.1" y1="174.1" x2="114.1" y2="174.1" stroke="#222" stroke-width="0.9"/>
<line x1="119.7" y1="172.6" x2="127.3" y2="172.6" stroke="#111" stroke-width="1.1"/>
<line x1="123.5" y1="169.6" x2="123.5" y2="175.6" stroke="#222" stroke-width="0.9"/>
<line x1="121.5" y1="169.6" x2="125.5" y2="169.6" stroke="#222" stroke-width="0.9"/>
<line x1="121.5" y1="175.6" x2="125.5" y2="175.6" stroke="#222" stroke-width="0.9"/>
<line x1="82" y1="134.7" x2="93.6" y2="134.7" stroke="#5a5a5a" stroke-width="1.4"/>
<circle cx="87.6" cy="132.1" r="0.85" fill="#505050"/>
<path d="M78.83 145.9L79.63 142.3M79.83 145.9L80.63 142.3M78.63 143.5H80.83M78.43 144.7H80.63M81.3 145.9L82.1 142.3M82.3 145.9L83.1 142.3M81.1 143.5H83.3M80.9 144.7H83.1M83.77 145.9L84.57 142.3M84.77 145.9L85.57 142.3M83.57 143.5H85.77M83.37 144.7H85.57" stroke="#4a4a4a" stroke-width="0.5" fill="none"/>
<path d="M88.84 151.2L89.64 147.6M89.84 151.2L90.64 147.6M88.64 148.8H90.84M88.44 150H90.64M91.31 151.2L92.11 147.6M92.31 151.2L93.11 147.6M91.11 148.8H93.31M90.91 150H93.11M93.79 151.2L94.59 147.6M94.79 151.2L95.59 147.6M93.59 148.8H95.79M93.39 150H95.59M96.26 151.2L97.06 147.6M97.26 151.2L98.06 147.6M96.06 148.8H98.26M95.86 150H98.06" stroke="#4a4a4a" stroke-width="0.5" fill="none"/>
<path d="M110.38 141.6L111.17 138M111.38 141.6L112.17 138M110.17 139.2H112.38M109.98 140.4H112.17M112.72 141.6L113.52 138M113.72 141.6L114.52 138M112.52 139.2H114.72M112.33 140.4H114.52" stroke="#4a4a4a" stroke-width="0.5" fill="none"/>
<path d="M121.67 141.6L122.47 138M122.67 141.6L123.47 138M121.47 139.2H123.67M121.28 140.4H123.47M124.03 141.6L124.83 138M125.03 141.6L125.83 138M123.83 139.2H126.03M123.63 140.4H125.83" stroke="#4a4a4a" stroke-width="0.5" fill="none"/>
<text x="140.7" y="122.4" font-size="10.3" textLength="5.6" lengthAdjust="spacingAndGlyphs" class="L">F</text>
<text x="201.1" y="124.8" font-size="7" textLength="31.5" lengthAdjust="spacingAndGlyphs" class="h">CD8+ Tmem</text>
<text class="Y" transform="translate(148.2,160.25) rotate(-90)" font-size="7.6" text-anchor="middle" textLength="53.9" lengthAdjust="spacingAndGlyphs">CD8+ Tmem/ml</text>
<text class="Y" transform="translate(157.8,160.5) rotate(-90)" font-size="7.6" text-anchor="middle" textLength="45.9" lengthAdjust="spacingAndGlyphs">(fold change)</text>
<line x1="172.4" y1="132.9" x2="172.4" y2="191.3" stroke="#2e2e2e" stroke-width="1.5"/>
<line x1="169.2" y1="190.7" x2="260.9" y2="190.7" stroke="#2e2e2e" stroke-width="1.5"/>
<line x1="169.2" y1="190.7" x2="172.4" y2="190.7" stroke="#2e2e2e" stroke-width="1.2"/>
<text x="166.8" y="192.9" font-size="6.1" text-anchor="end" fill="#2a2a2a" class="h">0</text>
<line x1="169.2" y1="176.25" x2="172.4" y2="176.25" stroke="#2e2e2e" stroke-width="1.2"/>
<text x="166.8" y="178.45" font-size="6.1" text-anchor="end" fill="#2a2a2a" class="h">1</text>
<line x1="169.2" y1="161.8" x2="172.4" y2="161.8" stroke="#2e2e2e" stroke-width="1.2"/>
<text x="166.8" y="164" font-size="6.1" text-anchor="end" fill="#2a2a2a" class="h">2</text>
<line x1="169.2" y1="147.35" x2="172.4" y2="147.35" stroke="#2e2e2e" stroke-width="1.2"/>
<text x="166.8" y="149.55" font-size="6.1" text-anchor="end" fill="#2a2a2a" class="h">3</text>
<line x1="169.2" y1="132.9" x2="172.4" y2="132.9" stroke="#2e2e2e" stroke-width="1.2"/>
<text x="166.8" y="135.1" font-size="6.1" text-anchor="end" fill="#2a2a2a" class="h">4</text>
<line x1="186.4" y1="190.7" x2="186.4" y2="193.7" stroke="#2e2e2e" stroke-width="1.1"/>
<text x="186.4" y="202.6" font-size="6.4" text-anchor="middle" textLength="16.4" lengthAdjust="spacingAndGlyphs">preOP</text>
<line x1="216.4" y1="190.7" x2="216.4" y2="193.7" stroke="#2e2e2e" stroke-width="1.1"/>
<text x="216.4" y="202.6" font-size="6.4" text-anchor="middle" textLength="16.2" lengthAdjust="spacingAndGlyphs">POD-1</text>
<line x1="246.7" y1="190.7" x2="246.7" y2="193.7" stroke="#2e2e2e" stroke-width="1.1"/>
<text x="246.7" y="202.6" font-size="6.4" text-anchor="middle" textLength="16.6" lengthAdjust="spacingAndGlyphs">POD-3</text>
<rect x="175.8" y="137.5" width="2.2" height="2.2" fill="#b01525"/>
<rect x="175.8" y="144.9" width="2.2" height="2.2" fill="#264b85"/>
<text x="180.4" y="140.4" font-size="5.8" textLength="17.6" lengthAdjust="spacingAndGlyphs" fill="#3a3a3a" class="h">placebo</text>
<text x="180.4" y="147.8" font-size="5.8" textLength="8.9" lengthAdjust="spacingAndGlyphs" fill="#3a3a3a" class="h">TXA</text>
<line x1="176.9" y1="176.25" x2="184.2" y2="176.25" stroke="#a3182a" stroke-width="1.9"/>
<line x1="177.2" y1="176.25" x2="183.9" y2="176.25" stroke="#3a0610" stroke-width="1.0"/>
<line x1="188.2" y1="176.25" x2="195.6" y2="176.25" stroke="#24497f" stroke-width="1.9"/>
<line x1="188.5" y1="176.25" x2="195.3" y2="176.25" stroke="#0b1630" stroke-width="1.0"/>
<circle cx="210.9" cy="171.5" r="1.2" fill="#b01525"/>
<circle cx="208" cy="178.9" r="1.2" fill="#b01525"/>
<circle cx="213" cy="178.6" r="1.2" fill="#b01525"/>
<circle cx="210.5" cy="180.6" r="1.2" fill="#b01525"/>
<circle cx="212" cy="183" r="1.2" fill="#b01525"/>
<circle cx="207.5" cy="185.5" r="1.2" fill="#b01525"/>
<circle cx="213.5" cy="186" r="1.2" fill="#b01525"/>
<circle cx="209" cy="188" r="1.2" fill="#b01525"/>
<circle cx="212" cy="189" r="1.2" fill="#b01525"/>
<circle cx="210" cy="190.3" r="1.2" fill="#b01525"/>
<circle cx="221.8" cy="174.4" r="1.2" fill="#264b85"/>
<circle cx="219" cy="180.3" r="1.2" fill="#264b85"/>
<circle cx="224.5" cy="180.3" r="1.2" fill="#264b85"/>
<circle cx="221.5" cy="182" r="1.2" fill="#264b85"/>
<circle cx="218.5" cy="185" r="1.2" fill="#264b85"/>
<circle cx="224.5" cy="185" r="1.2" fill="#264b85"/>
<circle cx="219.5" cy="188" r="1.2" fill="#264b85"/>
<circle cx="223" cy="188" r="1.2" fill="#264b85"/>
<circle cx="221" cy="190" r="1.2" fill="#264b85"/>
<circle cx="241.1" cy="145.9" r="1.2" fill="#b01525"/>
<circle cx="241.1" cy="151.4" r="1.2" fill="#b01525"/>
<circle cx="241.1" cy="170.7" r="1.2" fill="#b01525"/>
<circle cx="241" cy="178" r="1.2" fill="#b01525"/>
<circle cx="239.5" cy="182" r="1.2" fill="#b01525"/>
<circle cx="238" cy="184.5" r="1.2" fill="#b01525"/>
<circle cx="244" cy="184.5" r="1.2" fill="#b01525"/>
<circle cx="240" cy="186" r="1.2" fill="#b01525"/>
<circle cx="242" cy="188" r="1.2" fill="#b01525"/>
<circle cx="241" cy="190" r="1.2" fill="#b01525"/>
<circle cx="254" cy="175.2" r="1.2" fill="#264b85"/>
<circle cx="250.5" cy="177.2" r="1.2" fill="#264b85"/>
<circle cx="249" cy="186" r="1.2" fill="#264b85"/>
<circle cx="252" cy="186" r="1.2" fill="#264b85"/>
<circle cx="255" cy="186" r="1.2" fill="#264b85"/>
<circle cx="250.5" cy="188" r="1.2" fill="#264b85"/>
<circle cx="253.5" cy="188" r="1.2" fill="#264b85"/>
<circle cx="252" cy="190" r="1.2" fill="#264b85"/>
<line x1="207.1" y1="185" x2="214.7" y2="185" stroke="#111" stroke-width="1.1"/>
<line x1="210.9" y1="182" x2="210.9" y2="188" stroke="#222" stroke-width="0.9"/>
<line x1="208.9" y1="182" x2="212.9" y2="182" stroke="#222" stroke-width="0.9"/>
<line x1="208.9" y1="188" x2="212.9" y2="188" stroke="#222" stroke-width="0.9"/>
<line x1="218" y1="185.3" x2="225.6" y2="185.3" stroke="#111" stroke-width="1.1"/>
<line x1="221.8" y1="182.9" x2="221.8" y2="187.7" stroke="#222" stroke-width="0.9"/>
<line x1="219.8" y1="182.9" x2="223.8" y2="182.9" stroke="#222" stroke-width="0.9"/>
<line x1="219.8" y1="187.7" x2="223.8" y2="187.7" stroke="#222" stroke-width="0.9"/>
<line x1="237.3" y1="176.1" x2="244.9" y2="176.1" stroke="#111" stroke-width="1.1"/>
<line x1="241.1" y1="171.6" x2="241.1" y2="180.6" stroke="#222" stroke-width="0.9"/>
<line x1="239.1" y1="171.6" x2="243.1" y2="171.6" stroke="#222" stroke-width="0.9"/>
<line x1="239.1" y1="180.6" x2="243.1" y2="180.6" stroke="#222" stroke-width="0.9"/>
<line x1="248.2" y1="186.3" x2="255.8" y2="186.3" stroke="#111" stroke-width="1.1"/>
<line x1="252" y1="184.7" x2="252" y2="187.9" stroke="#222" stroke-width="0.9"/>
<line x1="250" y1="184.7" x2="254" y2="184.7" stroke="#222" stroke-width="0.9"/>
<line x1="250" y1="187.9" x2="254" y2="187.9" stroke="#222" stroke-width="0.9"/>
<path d="M208.9 158.8L209.7 155.2M209.9 158.8L210.7 155.2M208.7 156.4H210.9M208.5 157.6H210.7M211.5 158.8L212.3 155.2M212.5 158.8L213.3 155.2M211.3 156.4H213.5M211.1 157.6H213.3" stroke="#4a4a4a" stroke-width="0.5" fill="none"/>
<path d="M218.03 164.4L218.82 160.8M219.03 164.4L219.82 160.8M217.82 162H220.03M217.62 163.2H219.82M220.48 164.4L221.28 160.8M221.48 164.4L222.28 160.8M220.28 162H222.48M220.08 163.2H222.28M222.93 164.4L223.72 160.8M223.93 164.4L224.72 160.8M222.72 162H224.93M222.53 163.2H224.72M225.38 164.4L226.17 160.8M226.38 164.4L227.17 160.8M225.17 162H227.38M224.97 163.2H227.17" stroke="#4a4a4a" stroke-width="0.5" fill="none"/>
<line x1="241.3" y1="140.3" x2="252.7" y2="140.3" stroke="#5a5a5a" stroke-width="1.4"/>
<circle cx="247.3" cy="137.7" r="0.85" fill="#505050"/>
<path d="M248 165.8L248.8 162.2M249 165.8L249.8 162.2M247.8 163.4H250M247.6 164.6H249.8M250.6 165.8L251.4 162.2M251.6 165.8L252.4 162.2M250.4 163.4H252.6M250.2 164.6H252.4M253.2 165.8L254 162.2M254.2 165.8L255 162.2M253 163.4H255.2M252.8 164.6H255M255.8 165.8L256.6 162.2M256.8 165.8L257.6 162.2M255.6 163.4H257.8M255.4 164.6H257.6" stroke="#4a4a4a" stroke-width="0.5" fill="none"/>
<text x="269.5" y="122.7" font-size="10.3" textLength="7.7" lengthAdjust="spacingAndGlyphs" class="L">G</text>
<text x="330.3" y="124.8" font-size="7" textLength="30.6" lengthAdjust="spacingAndGlyphs" class="h">LAP on Treg</text>
<text class="Y" transform="translate(282,159.8) rotate(-90)" font-size="7.6" text-anchor="middle" textLength="75.4" lengthAdjust="spacingAndGlyphs">MFI LAP (fold change)</text>
<line x1="301.2" y1="132.95" x2="301.2" y2="191.3" stroke="#2e2e2e" stroke-width="1.5"/>
<line x1="298" y1="190.7" x2="389.6" y2="190.7" stroke="#2e2e2e" stroke-width="1.5"/>
<line x1="298" y1="190.7" x2="301.2" y2="190.7" stroke="#2e2e2e" stroke-width="1.2"/>
<text x="295.6" y="192.9" font-size="6.1" text-anchor="end" textLength="7.4" lengthAdjust="spacingAndGlyphs" fill="#2a2a2a" class="h">0.0</text>
<line x1="298" y1="179.15" x2="301.2" y2="179.15" stroke="#2e2e2e" stroke-width="1.2"/>
<text x="295.6" y="181.35" font-size="6.1" text-anchor="end" textLength="7.4" lengthAdjust="spacingAndGlyphs" fill="#2a2a2a" class="h">0.5</text>
<line x1="298" y1="167.6" x2="301.2" y2="167.6" stroke="#2e2e2e" stroke-width="1.2"/>
<text x="295.6" y="169.8" font-size="6.1" text-anchor="end" textLength="7.4" lengthAdjust="spacingAndGlyphs" fill="#2a2a2a" class="h">1.0</text>
<line x1="298" y1="156.05" x2="301.2" y2="156.05" stroke="#2e2e2e" stroke-width="1.2"/>
<text x="295.6" y="158.25" font-size="6.1" text-anchor="end" textLength="7.4" lengthAdjust="spacingAndGlyphs" fill="#2a2a2a" class="h">1.5</text>
<line x1="298" y1="144.5" x2="301.2" y2="144.5" stroke="#2e2e2e" stroke-width="1.2"/>
<text x="295.6" y="146.7" font-size="6.1" text-anchor="end" textLength="7.4" lengthAdjust="spacingAndGlyphs" fill="#2a2a2a" class="h">2.0</text>
<line x1="298" y1="132.95" x2="301.2" y2="132.95" stroke="#2e2e2e" stroke-width="1.2"/>
<text x="295.6" y="135.15" font-size="6.1" text-anchor="end" textLength="7.4" lengthAdjust="spacingAndGlyphs" fill="#2a2a2a" class="h">2.5</text>
<line x1="315.2" y1="190.7" x2="315.2" y2="193.7" stroke="#2e2e2e" stroke-width="1.1"/>
<text x="315.2" y="202.6" font-size="6.4" text-anchor="middle" textLength="16.4" lengthAdjust="spacingAndGlyphs">preOP</text>
<line x1="345.3" y1="190.7" x2="345.3" y2="193.7" stroke="#2e2e2e" stroke-width="1.1"/>
<text x="345.3" y="202.6" font-size="6.4" text-anchor="middle" textLength="16.2" lengthAdjust="spacingAndGlyphs">POD-1</text>
<line x1="375.7" y1="190.7" x2="375.7" y2="193.7" stroke="#2e2e2e" stroke-width="1.1"/>
<text x="375.7" y="202.6" font-size="6.4" text-anchor="middle" textLength="16.6" lengthAdjust="spacingAndGlyphs">POD-3</text>
<rect x="304.4" y="137.5" width="2.2" height="2.2" fill="#b01525"/>
<rect x="304.4" y="144.9" width="2.2" height="2.2" fill="#264b85"/>
<text x="309" y="140.4" font-size="5.8" textLength="17.6" lengthAdjust="spacingAndGlyphs" fill="#3a3a3a" class="h">placebo</text>
<text x="309" y="147.8" font-size="5.8" textLength="8.9" lengthAdjust="spacingAndGlyphs" fill="#3a3a3a" class="h">TXA</text>
<line x1="305.5" y1="167.6" x2="312.5" y2="167.6" stroke="#a3182a" stroke-width="1.9"/>
<line x1="305.8" y1="167.6" x2="312.2" y2="167.6" stroke="#3a0610" stroke-width="1.0"/>
<line x1="316.4" y1="167.6" x2="324.6" y2="167.6" stroke="#24497f" stroke-width="1.9"/>
<line x1="316.7" y1="167.6" x2="324.3" y2="167.6" stroke="#0b1630" stroke-width="1.0"/>
<circle cx="339.7" cy="143.6" r="1.2" fill="#b01525"/>
<circle cx="339.7" cy="148.8" r="1.2" fill="#b01525"/>
<circle cx="338" cy="152.9" r="1.2" fill="#b01525"/>
<circle cx="343" cy="154.4" r="1.2" fill="#b01525"/>
<circle cx="339.5" cy="157.6" r="1.2" fill="#b01525"/>
<circle cx="336.5" cy="158.5" r="1.2" fill="#b01525"/>
<circle cx="342" cy="159" r="1.2" fill="#b01525"/>
<circle cx="337" cy="161" r="1.2" fill="#b01525"/>
<circle cx="341" cy="162" r="1.2" fill="#b01525"/>
<circle cx="339" cy="164" r="1.2" fill="#b01525"/>
<circle cx="336.5" cy="167" r="1.2" fill="#b01525"/>
<circle cx="341.5" cy="166" r="1.2" fill="#b01525"/>
<circle cx="338" cy="167.8" r="1.2" fill="#b01525"/>
<circle cx="343" cy="169" r="1.2" fill="#b01525"/>
<circle cx="339" cy="172.5" r="1.2" fill="#b01525"/>
<circle cx="342" cy="172.5" r="1.2" fill="#b01525"/>
<circle cx="350.9" cy="144.6" r="1.2" fill="#264b85"/>
<circle cx="350.9" cy="148.8" r="1.2" fill="#264b85"/>
<circle cx="348" cy="153.5" r="1.2" fill="#264b85"/>
<circle cx="353" cy="154" r="1.2" fill="#264b85"/>
<circle cx="350" cy="156" r="1.2" fill="#264b85"/>
<circle cx="347" cy="158" r="1.2" fill="#264b85"/>
<circle cx="352" cy="158" r="1.2" fill="#264b85"/>
<circle cx="355" cy="159" r="1.2" fill="#264b85"/>
<circle cx="348" cy="162" r="1.2" fill="#264b85"/>
<circle cx="353" cy="163" r="1.2" fill="#264b85"/>
<circle cx="350" cy="165" r="1.2" fill="#264b85"/>
<circle cx="346.5" cy="166" r="1.2" fill="#264b85"/>
<circle cx="352" cy="167" r="1.2" fill="#264b85"/>
<circle cx="349" cy="169" r="1.2" fill="#264b85"/>
<circle cx="354" cy="169" r="1.2" fill="#264b85"/>
<circle cx="351" cy="171" r="1.2" fill="#264b85"/>
<circle cx="351" cy="179.4" r="1.2" fill="#264b85"/>
<circle cx="370.1" cy="153.9" r="1.2" fill="#b01525"/>
<circle cx="369" cy="157.5" r="1.2" fill="#b01525"/>
<circle cx="372" cy="159.8" r="1.2" fill="#b01525"/>
<circle cx="367" cy="163" r="1.2" fill="#b01525"/>
<circle cx="370" cy="163" r="1.2" fill="#b01525"/>
<circle cx="373" cy="164" r="1.2" fill="#b01525"/>
<circle cx="367.5" cy="166.5" r="1.2" fill="#b01525"/>
<circle cx="372.5" cy="167" r="1.2" fill="#b01525"/>
<circle cx="370" cy="169" r="1.2" fill="#b01525"/>
<circle cx="368" cy="172" r="1.2" fill="#b01525"/>
<circle cx="372" cy="172.5" r="1.2" fill="#b01525"/>
<circle cx="370" cy="175.7" r="1.2" fill="#b01525"/>
<circle cx="381.4" cy="159.1" r="1.2" fill="#264b85"/>
<circle cx="384" cy="163" r="1.2" fill="#264b85"/>
<circle cx="378.5" cy="164" r="1.2" fill="#264b85"/>
<circle cx="381" cy="166" r="1.2" fill="#264b85"/>
<circle cx="379" cy="168" r="1.2" fill="#264b85"/>
<circle cx="384" cy="169" r="1.2" fill="#264b85"/>
<circle cx="381" cy="171" r="1.2" fill="#264b85"/>
<circle cx="378" cy="172" r="1.2" fill="#264b85"/>
<circle cx="384.5" cy="172.5" r="1.2" fill="#264b85"/>
<circle cx="378.5" cy="174.6" r="1.2" fill="#264b85"/>
<circle cx="382" cy="175" r="1.2" fill="#264b85"/>
<circle cx="381.4" cy="179.7" r="1.2" fill="#264b85"/>
<line x1="335.9" y1="160.4" x2="343.5" y2="160.4" stroke="#111" stroke-width="1.1"/>
<line x1="339.7" y1="158.4" x2="339.7" y2="162.4" stroke="#222" stroke-width="0.9"/>
<line x1="337.7" y1="158.4" x2="341.7" y2="158.4" stroke="#222" stroke-width="0.9"/>
<line x1="337.7" y1="162.4" x2="341.7" y2="162.4" stroke="#222" stroke-width="0.9"/>
<line x1="347.1" y1="163.2" x2="354.7" y2="163.2" stroke="#111" stroke-width="1.1"/>
<line x1="350.9" y1="161" x2="350.9" y2="165.4" stroke="#222" stroke-width="0.9"/>
<line x1="348.9" y1="161" x2="352.9" y2="161" stroke="#222" stroke-width="0.9"/>
<line x1="348.9" y1="165.4" x2="352.9" y2="165.4" stroke="#222" stroke-width="0.9"/>
<line x1="366.3" y1="166" x2="373.9" y2="166" stroke="#111" stroke-width="1.1"/>
<line x1="370.1" y1="164.2" x2="370.1" y2="167.8" stroke="#222" stroke-width="0.9"/>
<line x1="368.1" y1="164.2" x2="372.1" y2="164.2" stroke="#222" stroke-width="0.9"/>
<line x1="368.1" y1="167.8" x2="372.1" y2="167.8" stroke="#222" stroke-width="0.9"/>
<line x1="377.6" y1="168.4" x2="385.2" y2="168.4" stroke="#111" stroke-width="1.1"/>
<line x1="381.4" y1="166.8" x2="381.4" y2="170" stroke="#222" stroke-width="0.9"/>
<line x1="379.4" y1="166.8" x2="383.4" y2="166.8" stroke="#222" stroke-width="0.9"/>
<line x1="379.4" y1="170" x2="383.4" y2="170" stroke="#222" stroke-width="0.9"/>
<path d="M337.7 133.9L338.5 130.3M338.7 133.9L339.5 130.3M337.5 131.5H339.7M337.3 132.7H339.5M340.3 133.9L341.1 130.3M341.3 133.9L342.1 130.3M340.1 131.5H342.3M339.9 132.7H342.1" stroke="#4a4a4a" stroke-width="0.5" fill="none"/>
<path d="M350.3 136L351.1 132.4M351.3 136L352.1 132.4M350.1 133.6H352.3M349.9 134.8H352.1" stroke="#4a4a4a" stroke-width="0.5" fill="none"/>
<line x1="370" y1="140.8" x2="381.3" y2="140.8" stroke="#5a5a5a" stroke-width="1.4"/>
<circle cx="375.6" cy="137.7" r="0.85" fill="#505050"/>
<text x="398.5" y="122.7" font-size="10.3" textLength="7.5" lengthAdjust="spacingAndGlyphs" class="L">H</text>
<text x="451.7" y="124.8" font-size="7" textLength="34.6" lengthAdjust="spacingAndGlyphs" class="h">CCR7 on Treg</text>
<text class="Y" transform="translate(405.5,159.65) rotate(-90)" font-size="7.6" text-anchor="middle" textLength="81.3" lengthAdjust="spacingAndGlyphs">MFI CCR7 (fold change)</text>
<line x1="425" y1="132.8" x2="425" y2="191.4" stroke="#2e2e2e" stroke-width="1.5"/>
<line x1="421.8" y1="190.8" x2="513" y2="190.8" stroke="#2e2e2e" stroke-width="1.5"/>
<line x1="421.8" y1="190.8" x2="425" y2="190.8" stroke="#2e2e2e" stroke-width="1.2"/>
<text x="419.4" y="193" font-size="6.1" text-anchor="end" textLength="7.4" lengthAdjust="spacingAndGlyphs" fill="#2a2a2a" class="h">0.0</text>
<line x1="421.8" y1="179.2" x2="425" y2="179.2" stroke="#2e2e2e" stroke-width="1.2"/>
<text x="419.4" y="181.4" font-size="6.1" text-anchor="end" textLength="7.4" lengthAdjust="spacingAndGlyphs" fill="#2a2a2a" class="h">0.5</text>
<line x1="421.8" y1="167.6" x2="425" y2="167.6" stroke="#2e2e2e" stroke-width="1.2"/>
<text x="419.4" y="169.8" font-size="6.1" text-anchor="end" textLength="7.4" lengthAdjust="spacingAndGlyphs" fill="#2a2a2a" class="h">1.0</text>
<line x1="421.8" y1="156" x2="425" y2="156" stroke="#2e2e2e" stroke-width="1.2"/>
<text x="419.4" y="158.2" font-size="6.1" text-anchor="end" textLength="7.4" lengthAdjust="spacingAndGlyphs" fill="#2a2a2a" class="h">1.5</text>
<line x1="421.8" y1="144.4" x2="425" y2="144.4" stroke="#2e2e2e" stroke-width="1.2"/>
<text x="419.4" y="146.6" font-size="6.1" text-anchor="end" textLength="7.4" lengthAdjust="spacingAndGlyphs" fill="#2a2a2a" class="h">2.0</text>
<line x1="421.8" y1="132.8" x2="425" y2="132.8" stroke="#2e2e2e" stroke-width="1.2"/>
<text x="419.4" y="135" font-size="6.1" text-anchor="end" textLength="7.4" lengthAdjust="spacingAndGlyphs" fill="#2a2a2a" class="h">2.5</text>
<line x1="438.5" y1="190.8" x2="438.5" y2="193.8" stroke="#2e2e2e" stroke-width="1.1"/>
<text x="438.5" y="202.6" font-size="6.4" text-anchor="middle" textLength="16.4" lengthAdjust="spacingAndGlyphs">preOP</text>
<line x1="468.6" y1="190.8" x2="468.6" y2="193.8" stroke="#2e2e2e" stroke-width="1.1"/>
<text x="468.6" y="202.6" font-size="6.4" text-anchor="middle" textLength="16.2" lengthAdjust="spacingAndGlyphs">POD-1</text>
<line x1="499.2" y1="190.8" x2="499.2" y2="193.8" stroke="#2e2e2e" stroke-width="1.1"/>
<text x="499.2" y="202.6" font-size="6.4" text-anchor="middle" textLength="16.6" lengthAdjust="spacingAndGlyphs">POD-3</text>
<rect x="428.1" y="137.6" width="2.2" height="2.2" fill="#b01525"/>
<rect x="428.1" y="144.7" width="2.2" height="2.2" fill="#264b85"/>
<text x="432.9" y="140.5" font-size="5.8" textLength="17.6" lengthAdjust="spacingAndGlyphs" fill="#3a3a3a" class="h">placebo</text>
<text x="432.9" y="147.6" font-size="5.8" textLength="8.9" lengthAdjust="spacingAndGlyphs" fill="#3a3a3a" class="h">TXA</text>
<line x1="429.2" y1="167.6" x2="436.9" y2="167.6" stroke="#a3182a" stroke-width="1.9"/>
<line x1="429.5" y1="167.6" x2="436.6" y2="167.6" stroke="#3a0610" stroke-width="1.0"/>
<line x1="440.2" y1="167.6" x2="447.9" y2="167.6" stroke="#24497f" stroke-width="1.9"/>
<line x1="440.5" y1="167.6" x2="447.6" y2="167.6" stroke="#0b1630" stroke-width="1.0"/>
<circle cx="460" cy="159.9" r="1.2" fill="#b01525"/>
<circle cx="464.5" cy="159.9" r="1.2" fill="#b01525"/>
<circle cx="462" cy="162" r="1.2" fill="#b01525"/>
<circle cx="466" cy="163" r="1.2" fill="#b01525"/>
<circle cx="459.5" cy="164" r="1.2" fill="#b01525"/>
<circle cx="463.5" cy="165" r="1.2" fill="#b01525"/>
<circle cx="459" cy="168.5" r="1.2" fill="#b01525"/>
<circle cx="462" cy="168.5" r="1.2" fill="#b01525"/>
<circle cx="465.5" cy="168.5" r="1.2" fill="#b01525"/>
<circle cx="461" cy="170.5" r="1.2" fill="#b01525"/>
<circle cx="459.5" cy="175" r="1.2" fill="#b01525"/>
<circle cx="462.5" cy="176.5" r="1.2" fill="#b01525"/>
<circle cx="460.5" cy="178.5" r="1.2" fill="#b01525"/>
<circle cx="464" cy="179" r="1.2" fill="#b01525"/>
<circle cx="462.8" cy="190.6" r="1.2" fill="#b01525"/>
<circle cx="474.4" cy="151.7" r="1.2" fill="#264b85"/>
<circle cx="474.4" cy="159.6" r="1.2" fill="#264b85"/>
<circle cx="471.5" cy="168" r="1.2" fill="#264b85"/>
<circle cx="476.5" cy="170" r="1.2" fill="#264b85"/>
<circle cx="473" cy="171" r="1.2" fill="#264b85"/>
<circle cx="478" cy="170" r="1.2" fill="#264b85"/>
<circle cx="471" cy="174" r="1.2" fill="#264b85"/>
<circle cx="474" cy="175.5" r="1.2" fill="#264b85"/>
<circle cx="476.5" cy="176.5" r="1.2" fill="#264b85"/>
<circle cx="472.5" cy="177.5" r="1.2" fill="#264b85"/>
<circle cx="474.5" cy="180" r="1.2" fill="#264b85"/>
<circle cx="472.5" cy="183.5" r="1.2" fill="#264b85"/>
<circle cx="476" cy="183" r="1.2" fill="#264b85"/>
<circle cx="493.4" cy="141.7" r="1.2" fill="#b01525"/>
<circle cx="492" cy="154.6" r="1.2" fill="#b01525"/>
<circle cx="494" cy="152.5" r="1.2" fill="#b01525"/>
<circle cx="496" cy="158.7" r="1.2" fill="#b01525"/>
<circle cx="490" cy="165" r="1.2" fill="#b01525"/>
<circle cx="496.5" cy="166" r="1.2" fill="#b01525"/>
<circle cx="492" cy="171.5" r="1.2" fill="#b01525"/>
<circle cx="495" cy="171.5" r="1.2" fill="#b01525"/>
<circle cx="490.5" cy="174" r="1.2" fill="#b01525"/>
<circle cx="494.5" cy="176" r="1.2" fill="#b01525"/>
<circle cx="493" cy="178" r="1.2" fill="#b01525"/>
<circle cx="505.1" cy="159.4" r="1.2" fill="#264b85"/>
<circle cx="502.5" cy="164.5" r="1.2" fill="#264b85"/>
<circle cx="507" cy="164.5" r="1.2" fill="#264b85"/>
<circle cx="505" cy="167" r="1.2" fill="#264b85"/>
<circle cx="502" cy="170" r="1.2" fill="#264b85"/>
<circle cx="508" cy="172" r="1.2" fill="#264b85"/>
<circle cx="503" cy="174.5" r="1.2" fill="#264b85"/>
<circle cx="506.5" cy="174.5" r="1.2" fill="#264b85"/>
<circle cx="504" cy="177" r="1.2" fill="#264b85"/>
<circle cx="508" cy="179" r="1.2" fill="#264b85"/>
<circle cx="505" cy="180" r="1.2" fill="#264b85"/>
<circle cx="502.5" cy="183" r="1.2" fill="#264b85"/>
<line x1="459" y1="169.6" x2="466.6" y2="169.6" stroke="#111" stroke-width="1.1"/>
<line x1="462.8" y1="167" x2="462.8" y2="172.2" stroke="#222" stroke-width="0.9"/>
<line x1="460.8" y1="167" x2="464.8" y2="167" stroke="#222" stroke-width="0.9"/>
<line x1="460.8" y1="172.2" x2="464.8" y2="172.2" stroke="#222" stroke-width="0.9"/>
<line x1="470.6" y1="172.6" x2="478.2" y2="172.6" stroke="#111" stroke-width="1.1"/>
<line x1="474.4" y1="170.2" x2="474.4" y2="175" stroke="#222" stroke-width="0.9"/>
<line x1="472.4" y1="170.2" x2="476.4" y2="170.2" stroke="#222" stroke-width="0.9"/>
<line x1="472.4" y1="175" x2="476.4" y2="175" stroke="#222" stroke-width="0.9"/>
<line x1="489.6" y1="165" x2="497.2" y2="165" stroke="#111" stroke-width="1.1"/>
<line x1="493.4" y1="162" x2="493.4" y2="168" stroke="#222" stroke-width="0.9"/>
<line x1="491.4" y1="162" x2="495.4" y2="162" stroke="#222" stroke-width="0.9"/>
<line x1="491.4" y1="168" x2="495.4" y2="168" stroke="#222" stroke-width="0.9"/>
<line x1="501.3" y1="172.8" x2="508.9" y2="172.8" stroke="#111" stroke-width="1.1"/>
<line x1="505.1" y1="170.6" x2="505.1" y2="175" stroke="#222" stroke-width="0.9"/>
<line x1="503.1" y1="170.6" x2="507.1" y2="170.6" stroke="#222" stroke-width="0.9"/>
<line x1="503.1" y1="175" x2="507.1" y2="175" stroke="#222" stroke-width="0.9"/>
<line x1="493.5" y1="139" x2="505" y2="139" stroke="#5a5a5a" stroke-width="1.4"/>
<circle cx="499.2" cy="136.2" r="0.85" fill="#505050"/>
<path d="M504.2 152.8L505 149.2M505.2 152.8L506 149.2M504 150.4H506.2M503.8 151.6H506" stroke="#4a4a4a" stroke-width="0.5" fill="none"/>
<text x="6.5" y="228.6" font-size="10.3" textLength="3" lengthAdjust="spacingAndGlyphs" class="L">I</text>
<text x="66.3" y="230.8" font-size="7" textLength="43.7" lengthAdjust="spacingAndGlyphs" class="h">CCR7 on NK cells</text>
<text class="Y" transform="translate(29.5,271.1) rotate(-90)" font-size="7.6" text-anchor="middle" textLength="80.2" lengthAdjust="spacingAndGlyphs">MFI CCR7 (fold change)</text>
<line x1="44.2" y1="243.4" x2="44.2" y2="302.4" stroke="#2e2e2e" stroke-width="1.5"/>
<line x1="41" y1="301.8" x2="131.7" y2="301.8" stroke="#2e2e2e" stroke-width="1.5"/>
<line x1="41" y1="301.8" x2="44.2" y2="301.8" stroke="#2e2e2e" stroke-width="1.2"/>
<text x="38.6" y="304" font-size="6.1" text-anchor="end" fill="#2a2a2a" class="h">0</text>
<line x1="41" y1="287.2" x2="44.2" y2="287.2" stroke="#2e2e2e" stroke-width="1.2"/>
<text x="38.6" y="289.4" font-size="6.1" text-anchor="end" fill="#2a2a2a" class="h">1</text>
<line x1="41" y1="272.6" x2="44.2" y2="272.6" stroke="#2e2e2e" stroke-width="1.2"/>
<text x="38.6" y="274.8" font-size="6.1" text-anchor="end" fill="#2a2a2a" class="h">2</text>
<line x1="41" y1="258" x2="44.2" y2="258" stroke="#2e2e2e" stroke-width="1.2"/>
<text x="38.6" y="260.2" font-size="6.1" text-anchor="end" fill="#2a2a2a" class="h">3</text>
<line x1="41" y1="243.4" x2="44.2" y2="243.4" stroke="#2e2e2e" stroke-width="1.2"/>
<text x="38.6" y="245.6" font-size="6.1" text-anchor="end" fill="#2a2a2a" class="h">4</text>
<line x1="57.3" y1="301.8" x2="57.3" y2="304.8" stroke="#2e2e2e" stroke-width="1.1"/>
<text x="57.3" y="313.6" font-size="6.4" text-anchor="middle" textLength="16.4" lengthAdjust="spacingAndGlyphs">preOP</text>
<line x1="87.5" y1="301.8" x2="87.5" y2="304.8" stroke="#2e2e2e" stroke-width="1.1"/>
<text x="87.5" y="313.6" font-size="6.4" text-anchor="middle" textLength="16.2" lengthAdjust="spacingAndGlyphs">POD-1</text>
<line x1="117.7" y1="301.8" x2="117.7" y2="304.8" stroke="#2e2e2e" stroke-width="1.1"/>
<text x="117.7" y="313.6" font-size="6.4" text-anchor="middle" textLength="16.6" lengthAdjust="spacingAndGlyphs">POD-3</text>
<rect x="46.7" y="248.5" width="2.2" height="2.2" fill="#b01525"/>
<rect x="46.7" y="255.5" width="2.2" height="2.2" fill="#264b85"/>
<text x="51.8" y="251.4" font-size="5.8" textLength="17.6" lengthAdjust="spacingAndGlyphs" fill="#3a3a3a" class="h">placebo</text>
<text x="51.8" y="258.4" font-size="5.8" textLength="8.9" lengthAdjust="spacingAndGlyphs" fill="#3a3a3a" class="h">TXA</text>
<line x1="47.8" y1="287.2" x2="55.3" y2="287.2" stroke="#a3182a" stroke-width="1.9"/>
<line x1="48.1" y1="287.2" x2="55" y2="287.2" stroke="#3a0610" stroke-width="1.0"/>
<line x1="58.8" y1="287.2" x2="66.3" y2="287.2" stroke="#24497f" stroke-width="1.9"/>
<line x1="59.1" y1="287.2" x2="66" y2="287.2" stroke="#0b1630" stroke-width="1.0"/>
<circle cx="82" cy="284.1" r="1.2" fill="#b01525"/>
<circle cx="79" cy="285.5" r="1.2" fill="#b01525"/>
<circle cx="84.5" cy="285.5" r="1.2" fill="#b01525"/>
<circle cx="80.5" cy="287" r="1.2" fill="#b01525"/>
<circle cx="83" cy="287" r="1.2" fill="#b01525"/>
<circle cx="79" cy="289.5" r="1.2" fill="#b01525"/>
<circle cx="84" cy="289.5" r="1.2" fill="#b01525"/>
<circle cx="81.5" cy="291" r="1.2" fill="#b01525"/>
<circle cx="79.5" cy="293" r="1.2" fill="#b01525"/>
<circle cx="83.5" cy="293" r="1.2" fill="#b01525"/>
<circle cx="82" cy="294.5" r="1.2" fill="#b01525"/>
<circle cx="82" cy="301.6" r="1.2" fill="#b01525"/>
<circle cx="93.5" cy="256.2" r="1.2" fill="#264b85"/>
<circle cx="93.5" cy="261.7" r="1.2" fill="#264b85"/>
<circle cx="93.5" cy="265.7" r="1.2" fill="#264b85"/>
<circle cx="93.5" cy="276.3" r="1.2" fill="#264b85"/>
<circle cx="96" cy="278" r="1.2" fill="#264b85"/>
<circle cx="91" cy="278.5" r="1.2" fill="#264b85"/>
<circle cx="93" cy="284" r="1.2" fill="#264b85"/>
<circle cx="96" cy="286" r="1.2" fill="#264b85"/>
<circle cx="90" cy="286.5" r="1.2" fill="#264b85"/>
<circle cx="94" cy="288" r="1.2" fill="#264b85"/>
<circle cx="91.5" cy="290" r="1.2" fill="#264b85"/>
<circle cx="96" cy="290.5" r="1.2" fill="#264b85"/>
<circle cx="90" cy="292" r="1.2" fill="#264b85"/>
<circle cx="94" cy="293" r="1.2" fill="#264b85"/>
<circle cx="97" cy="294" r="1.2" fill="#264b85"/>
<circle cx="93" cy="294.8" r="1.2" fill="#264b85"/>
<circle cx="109.5" cy="277.6" r="1.2" fill="#b01525"/>
<circle cx="113" cy="277.6" r="1.2" fill="#b01525"/>
<circle cx="115" cy="279" r="1.2" fill="#b01525"/>
<circle cx="112" cy="281" r="1.2" fill="#b01525"/>
<circle cx="109" cy="283" r="1.2" fill="#b01525"/>
<circle cx="114" cy="284" r="1.2" fill="#b01525"/>
<circle cx="110" cy="287" r="1.2" fill="#b01525"/>
<circle cx="113" cy="287.5" r="1.2" fill="#b01525"/>
<circle cx="111" cy="290" r="1.2" fill="#b01525"/>
<circle cx="114.5" cy="291" r="1.2" fill="#b01525"/>
<circle cx="110" cy="293.5" r="1.2" fill="#b01525"/>
<circle cx="113" cy="295" r="1.2" fill="#b01525"/>
<circle cx="121.5" cy="258.4" r="1.2" fill="#264b85"/>
<circle cx="124.5" cy="257.5" r="1.2" fill="#264b85"/>
<circle cx="122" cy="272" r="1.2" fill="#264b85"/>
<circle cx="124.5" cy="274.5" r="1.2" fill="#264b85"/>
<circle cx="120.5" cy="280" r="1.2" fill="#264b85"/>
<circle cx="124" cy="280.5" r="1.2" fill="#264b85"/>
<circle cx="126" cy="280" r="1.2" fill="#264b85"/>
<circle cx="122" cy="283" r="1.2" fill="#264b85"/>
<circle cx="125" cy="284.5" r="1.2" fill="#264b85"/>
<circle cx="120.5" cy="286" r="1.2" fill="#264b85"/>
<circle cx="123" cy="287.5" r="1.2" fill="#264b85"/>
<circle cx="126" cy="289" r="1.2" fill="#264b85"/>
<circle cx="121" cy="291" r="1.2" fill="#264b85"/>
<circle cx="124" cy="292.5" r="1.2" fill="#264b85"/>
<circle cx="122.5" cy="297.1" r="1.2" fill="#264b85"/>
<line x1="78.1" y1="289.1" x2="85.7" y2="289.1" stroke="#111" stroke-width="1.1"/>
<line x1="81.9" y1="287.5" x2="81.9" y2="290.7" stroke="#222" stroke-width="0.9"/>
<line x1="79.9" y1="287.5" x2="83.9" y2="287.5" stroke="#222" stroke-width="0.9"/>
<line x1="79.9" y1="290.7" x2="83.9" y2="290.7" stroke="#222" stroke-width="0.9"/>
<line x1="89.7" y1="282.2" x2="97.3" y2="282.2" stroke="#111" stroke-width="1.1"/>
<line x1="93.5" y1="279.2" x2="93.5" y2="285.2" stroke="#222" stroke-width="0.9"/>
<line x1="91.5" y1="279.2" x2="95.5" y2="279.2" stroke="#222" stroke-width="0.9"/>
<line x1="91.5" y1="285.2" x2="95.5" y2="285.2" stroke="#222" stroke-width="0.9"/>
<line x1="108.3" y1="285.6" x2="115.9" y2="285.6" stroke="#111" stroke-width="1.1"/>
<line x1="112.1" y1="283.6" x2="112.1" y2="287.6" stroke="#222" stroke-width="0.9"/>
<line x1="110.1" y1="283.6" x2="114.1" y2="283.6" stroke="#222" stroke-width="0.9"/>
<line x1="110.1" y1="287.6" x2="114.1" y2="287.6" stroke="#222" stroke-width="0.9"/>
<line x1="119.5" y1="283.2" x2="127.1" y2="283.2" stroke="#111" stroke-width="1.1"/>
<line x1="123.3" y1="280" x2="123.3" y2="286.4" stroke="#222" stroke-width="0.9"/>
<line x1="121.3" y1="280" x2="125.3" y2="280" stroke="#222" stroke-width="0.9"/>
<line x1="121.3" y1="286.4" x2="125.3" y2="286.4" stroke="#222" stroke-width="0.9"/>
<line x1="82" y1="251.9" x2="93.6" y2="251.9" stroke="#5a5a5a" stroke-width="1.4"/>
<circle cx="87.6" cy="249.1" r="0.85" fill="#505050"/>
<text x="140.3" y="229" font-size="10.3" textLength="4.7" lengthAdjust="spacingAndGlyphs" class="L">J</text>
<text x="204.2" y="231" font-size="7" textLength="33.1" lengthAdjust="spacingAndGlyphs" class="h">plasma IL-1b</text>
<text class="Y" transform="translate(157.3,268.35) rotate(-90)" font-size="7.6" text-anchor="middle" textLength="69.5" lengthAdjust="spacingAndGlyphs">pg/ml (fold change)</text>
<line x1="172.6" y1="238.65" x2="172.6" y2="302.5" stroke="#2e2e2e" stroke-width="1.5"/>
<line x1="169.4" y1="301.9" x2="268" y2="301.9" stroke="#2e2e2e" stroke-width="1.5"/>
<line x1="169.4" y1="301.9" x2="172.6" y2="301.9" stroke="#2e2e2e" stroke-width="1.2"/>
<text x="167" y="304.1" font-size="6.1" text-anchor="end" fill="#2a2a2a" class="h">0</text>
<line x1="169.4" y1="289.25" x2="172.6" y2="289.25" stroke="#2e2e2e" stroke-width="1.2"/>
<text x="167" y="291.45" font-size="6.1" text-anchor="end" fill="#2a2a2a" class="h">1</text>
<line x1="169.4" y1="276.6" x2="172.6" y2="276.6" stroke="#2e2e2e" stroke-width="1.2"/>
<text x="167" y="278.8" font-size="6.1" text-anchor="end" fill="#2a2a2a" class="h">2</text>
<line x1="169.4" y1="263.95" x2="172.6" y2="263.95" stroke="#2e2e2e" stroke-width="1.2"/>
<text x="167" y="266.15" font-size="6.1" text-anchor="end" fill="#2a2a2a" class="h">3</text>
<line x1="169.4" y1="251.3" x2="172.6" y2="251.3" stroke="#2e2e2e" stroke-width="1.2"/>
<text x="167" y="253.5" font-size="6.1" text-anchor="end" fill="#2a2a2a" class="h">4</text>
<line x1="169.4" y1="238.65" x2="172.6" y2="238.65" stroke="#2e2e2e" stroke-width="1.2"/>
<text x="167" y="240.85" font-size="6.1" text-anchor="end" fill="#2a2a2a" class="h">5</text>
<line x1="183.8" y1="301.9" x2="183.8" y2="304.9" stroke="#2e2e2e" stroke-width="1.1"/>
<text x="183.8" y="313.6" font-size="6.4" text-anchor="middle" textLength="16.4" lengthAdjust="spacingAndGlyphs">preOP</text>
<line x1="208.2" y1="301.9" x2="208.2" y2="304.9" stroke="#2e2e2e" stroke-width="1.1"/>
<text x="208.2" y="313.6" font-size="6.4" text-anchor="middle" textLength="10" lengthAdjust="spacingAndGlyphs">EOS</text>
<line x1="232.6" y1="301.9" x2="232.6" y2="304.9" stroke="#2e2e2e" stroke-width="1.1"/>
<text x="232.6" y="313.6" font-size="6.4" text-anchor="middle" textLength="16.2" lengthAdjust="spacingAndGlyphs">POD-1</text>
<line x1="256.6" y1="301.9" x2="256.6" y2="304.9" stroke="#2e2e2e" stroke-width="1.1"/>
<text x="256.6" y="313.6" font-size="6.4" text-anchor="middle" textLength="16.6" lengthAdjust="spacingAndGlyphs">POD-3</text>
<rect x="175.6" y="248.7" width="2.2" height="2.2" fill="#b01525"/>
<rect x="175.6" y="255.5" width="2.2" height="2.2" fill="#264b85"/>
<text x="180.6" y="251.6" font-size="5.8" textLength="17.6" lengthAdjust="spacingAndGlyphs" fill="#3a3a3a" class="h">placebo</text>
<text x="180.6" y="258.4" font-size="5.8" textLength="8.9" lengthAdjust="spacingAndGlyphs" fill="#3a3a3a" class="h">TXA</text>
<line x1="175.8" y1="289.25" x2="182.5" y2="289.25" stroke="#a3182a" stroke-width="1.9"/>
<line x1="176.1" y1="289.25" x2="182.2" y2="289.25" stroke="#3a0610" stroke-width="1.0"/>
<line x1="185.4" y1="289.25" x2="192.2" y2="289.25" stroke="#24497f" stroke-width="1.9"/>
<line x1="185.7" y1="289.25" x2="191.9" y2="289.25" stroke="#0b1630" stroke-width="1.0"/>
<circle cx="203.6" cy="252.9" r="1.2" fill="#b01525"/>
<circle cx="201" cy="264.9" r="1.2" fill="#b01525"/>
<circle cx="205.5" cy="264.9" r="1.2" fill="#b01525"/>
<circle cx="203.5" cy="267.5" r="1.2" fill="#b01525"/>
<circle cx="203.5" cy="271.4" r="1.2" fill="#b01525"/>
<circle cx="203.5" cy="277" r="1.2" fill="#b01525"/>
<circle cx="201" cy="283" r="1.2" fill="#b01525"/>
<circle cx="205.5" cy="283" r="1.2" fill="#b01525"/>
<circle cx="203" cy="285" r="1.2" fill="#b01525"/>
<circle cx="201.5" cy="287" r="1.2" fill="#b01525"/>
<circle cx="205" cy="288" r="1.2" fill="#b01525"/>
<circle cx="202" cy="290" r="1.2" fill="#b01525"/>
<circle cx="205" cy="291" r="1.2" fill="#b01525"/>
<circle cx="203.5" cy="293" r="1.2" fill="#b01525"/>
<circle cx="201" cy="294" r="1.2" fill="#b01525"/>
<circle cx="204.5" cy="294.5" r="1.2" fill="#b01525"/>
<circle cx="212.9" cy="258.3" r="1.2" fill="#264b85"/>
<circle cx="210.5" cy="265.8" r="1.2" fill="#264b85"/>
<circle cx="215" cy="265.8" r="1.2" fill="#264b85"/>
<circle cx="213" cy="267" r="1.2" fill="#264b85"/>
<circle cx="213" cy="277.8" r="1.2" fill="#264b85"/>
<circle cx="210.5" cy="281" r="1.2" fill="#264b85"/>
<circle cx="215" cy="282" r="1.2" fill="#264b85"/>
<circle cx="212" cy="285" r="1.2" fill="#264b85"/>
<circle cx="214.5" cy="287" r="1.2" fill="#264b85"/>
<circle cx="211" cy="289" r="1.2" fill="#264b85"/>
<circle cx="213.5" cy="290" r="1.2" fill="#264b85"/>
<circle cx="211.5" cy="295" r="1.2" fill="#264b85"/>
<circle cx="214.5" cy="295" r="1.2" fill="#264b85"/>
<circle cx="213" cy="296.5" r="1.2" fill="#264b85"/>
<circle cx="227.8" cy="265.8" r="1.2" fill="#b01525"/>
<circle cx="226" cy="275.4" r="1.2" fill="#b01525"/>
<circle cx="229" cy="275.4" r="1.2" fill="#b01525"/>
<circle cx="230.5" cy="276.8" r="1.2" fill="#b01525"/>
<circle cx="225.5" cy="277.8" r="1.2" fill="#b01525"/>
<circle cx="228" cy="279.5" r="1.2" fill="#b01525"/>
<circle cx="226" cy="283" r="1.2" fill="#b01525"/>
<circle cx="230" cy="284" r="1.2" fill="#b01525"/>
<circle cx="227.5" cy="286" r="1.2" fill="#b01525"/>
<circle cx="229.5" cy="288" r="1.2" fill="#b01525"/>
<circle cx="226.5" cy="289.5" r="1.2" fill="#b01525"/>
<circle cx="228" cy="291.5" r="1.2" fill="#b01525"/>
<circle cx="229" cy="294" r="1.2" fill="#b01525"/>
<circle cx="227" cy="296.7" r="1.2" fill="#b01525"/>
<circle cx="225" cy="299.2" r="1.2" fill="#b01525"/>
<circle cx="237.4" cy="265.8" r="1.2" fill="#264b85"/>
<circle cx="237.4" cy="282.7" r="1.2" fill="#264b85"/>
<circle cx="235" cy="286" r="1.2" fill="#264b85"/>
<circle cx="238" cy="286" r="1.2" fill="#264b85"/>
<circle cx="240" cy="287" r="1.2" fill="#264b85"/>
<circle cx="236" cy="288.5" r="1.2" fill="#264b85"/>
<circle cx="239" cy="289" r="1.2" fill="#264b85"/>
<circle cx="235" cy="290.5" r="1.2" fill="#264b85"/>
<circle cx="238" cy="291" r="1.2" fill="#264b85"/>
<circle cx="240.5" cy="291.5" r="1.2" fill="#264b85"/>
<circle cx="236.5" cy="293" r="1.2" fill="#264b85"/>
<circle cx="239" cy="293.5" r="1.2" fill="#264b85"/>
<circle cx="237.5" cy="295.5" r="1.2" fill="#264b85"/>
<circle cx="237.5" cy="301.4" r="1.2" fill="#264b85"/>
<circle cx="251.9" cy="262.3" r="1.2" fill="#b01525"/>
<circle cx="251.9" cy="270.5" r="1.2" fill="#b01525"/>
<circle cx="250.5" cy="278.2" r="1.2" fill="#b01525"/>
<circle cx="253.5" cy="276.5" r="1.2" fill="#b01525"/>
<circle cx="251" cy="282" r="1.2" fill="#b01525"/>
<circle cx="253.5" cy="283" r="1.2" fill="#b01525"/>
<circle cx="250" cy="287" r="1.2" fill="#b01525"/>
<circle cx="253" cy="288.5" r="1.2" fill="#b01525"/>
<circle cx="251" cy="291" r="1.2" fill="#b01525"/>
<circle cx="253.5" cy="293" r="1.2" fill="#b01525"/>
<circle cx="250.5" cy="293.5" r="1.2" fill="#b01525"/>
<circle cx="250" cy="301.5" r="1.2" fill="#b01525"/>
<circle cx="253.5" cy="301.5" r="1.2" fill="#b01525"/>
<circle cx="261.3" cy="265.7" r="1.2" fill="#264b85"/>
<circle cx="261.3" cy="280.7" r="1.2" fill="#264b85"/>
<circle cx="259.5" cy="285" r="1.2" fill="#264b85"/>
<circle cx="263" cy="287" r="1.2" fill="#264b85"/>
<circle cx="260" cy="290" r="1.2" fill="#264b85"/>
<circle cx="262.5" cy="292" r="1.2" fill="#264b85"/>
<circle cx="259.5" cy="294" r="1.2" fill="#264b85"/>
<circle cx="263" cy="295.5" r="1.2" fill="#264b85"/>
<circle cx="261" cy="297" r="1.2" fill="#264b85"/>
<circle cx="262" cy="300" r="1.2" fill="#264b85"/>
<circle cx="259.5" cy="301.5" r="1.2" fill="#264b85"/>
<line x1="199.8" y1="281.4" x2="207.4" y2="281.4" stroke="#111" stroke-width="1.1"/>
<line x1="203.6" y1="278" x2="203.6" y2="284.8" stroke="#222" stroke-width="0.9"/>
<line x1="201.6" y1="278" x2="205.6" y2="278" stroke="#222" stroke-width="0.9"/>
<line x1="201.6" y1="284.8" x2="205.6" y2="284.8" stroke="#222" stroke-width="0.9"/>
<line x1="209.1" y1="282.7" x2="216.7" y2="282.7" stroke="#111" stroke-width="1.1"/>
<line x1="212.9" y1="279.3" x2="212.9" y2="286.1" stroke="#222" stroke-width="0.9"/>
<line x1="210.9" y1="279.3" x2="214.9" y2="279.3" stroke="#222" stroke-width="0.9"/>
<line x1="210.9" y1="286.1" x2="214.9" y2="286.1" stroke="#222" stroke-width="0.9"/>
<line x1="224" y1="283.3" x2="231.6" y2="283.3" stroke="#111" stroke-width="1.1"/>
<line x1="227.8" y1="280.3" x2="227.8" y2="286.3" stroke="#222" stroke-width="0.9"/>
<line x1="225.8" y1="280.3" x2="229.8" y2="280.3" stroke="#222" stroke-width="0.9"/>
<line x1="225.8" y1="286.3" x2="229.8" y2="286.3" stroke="#222" stroke-width="0.9"/>
<line x1="233.6" y1="288.7" x2="241.2" y2="288.7" stroke="#111" stroke-width="1.1"/>
<line x1="237.4" y1="286.9" x2="237.4" y2="290.5" stroke="#222" stroke-width="0.9"/>
<line x1="235.4" y1="286.9" x2="239.4" y2="286.9" stroke="#222" stroke-width="0.9"/>
<line x1="235.4" y1="290.5" x2="239.4" y2="290.5" stroke="#222" stroke-width="0.9"/>
<line x1="248.1" y1="285.8" x2="255.7" y2="285.8" stroke="#111" stroke-width="1.1"/>
<line x1="251.9" y1="282.8" x2="251.9" y2="288.8" stroke="#222" stroke-width="0.9"/>
<line x1="249.9" y1="282.8" x2="253.9" y2="282.8" stroke="#222" stroke-width="0.9"/>
<line x1="249.9" y1="288.8" x2="253.9" y2="288.8" stroke="#222" stroke-width="0.9"/>
<line x1="257.5" y1="291" x2="265.1" y2="291" stroke="#111" stroke-width="1.1"/>
<line x1="261.3" y1="288.6" x2="261.3" y2="293.4" stroke="#222" stroke-width="0.9"/>
<line x1="259.3" y1="288.6" x2="263.3" y2="288.6" stroke="#222" stroke-width="0.9"/>
<line x1="259.3" y1="293.4" x2="263.3" y2="293.4" stroke="#222" stroke-width="0.9"/>
<path d="M202.9 245.6L203.7 242M203.9 245.6L204.7 242M202.7 243.2H204.9M202.5 244.4H204.7" stroke="#4a4a4a" stroke-width="0.5" fill="none"/>
<line x1="228" y1="251.5" x2="236.9" y2="251.5" stroke="#5a5a5a" stroke-width="1.4"/>
<circle cx="232.5" cy="249.2" r="0.85" fill="#505050"/>
<rect x="0" y="0" width="1.1" height="322" fill="#111"/>
<rect x="0" y="0" width="520" height="1" fill="#666"/>
<rect x="518.2" y="0" width="1.8" height="322" fill="#3a3a3a"/>
<rect x="0" y="320" width="520" height="2" fill="#333"/>
</svg></body></html>
